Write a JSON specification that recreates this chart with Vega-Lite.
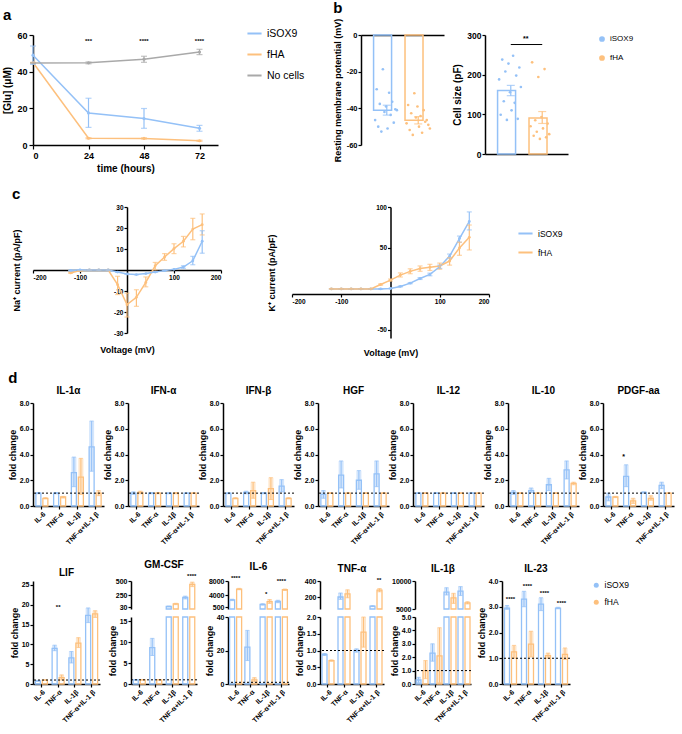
{
"$schema":"https://vega.github.io/schema/vega-lite/v6.json",
"padding":{"left":2,"top":1,"right":0,"bottom":0},
"spacing":14,
"align":"none",
"resolve":{"scale":{"color":"independent"}},
"config":{
 "font":"Liberation Sans",
 "view":{"stroke":null},
 "axis":{"grid":false,"domainColor":"#000","tickColor":"#000","labelColor":"#000","titleColor":"#000","labelFont":"Liberation Sans","titleFont":"Liberation Sans","labelFontWeight":"bold","titleFontWeight":"bold","domainWidth":1.5,"tickWidth":1.2,"tickSize":3,"labelFontSize":7,"titleFontSize":9,"labelPadding":1,"titlePadding":2,"labelOverlap":false,"tickCount":20},
 "title":{"font":"Liberation Sans","fontSize":10,"fontWeight":"bold","color":"#000","offset":3},
 "legend":{"labelFont":"Liberation Sans","labelColor":"#000"}
},
"datasets":{
 "glu":[
  {"t":0,"g":"iSOX9","m":49,"lo":44,"hi":54},{"t":24,"g":"iSOX9","m":17.5,"lo":9.6,"hi":25.5},{"t":48,"g":"iSOX9","m":14.4,"lo":9.1,"hi":19.9},{"t":72,"g":"iSOX9","m":9.1,"lo":7.5,"hi":10.7},
  {"t":0,"g":"fHA","m":45,"lo":45,"hi":45},{"t":24,"g":"fHA","m":3.7,"lo":3.4,"hi":4.0},{"t":48,"g":"fHA","m":3.6,"lo":3.3,"hi":3.9},{"t":72,"g":"fHA","m":2.3,"lo":2.0,"hi":2.6},
  {"t":0,"g":"No cells","m":44.7,"lo":44.7,"hi":44.7},{"t":24,"g":"No cells","m":44.8,"lo":44.3,"hi":45.3},{"t":48,"g":"No cells","m":46.8,"lo":45.1,"hi":48.4},{"t":72,"g":"No cells","m":50.7,"lo":49.3,"hi":52.2}
 ],
 "gstars":[{"t":24,"s":"***"},{"t":48,"s":"****"},{"t":72,"s":"****"}],
 "rmp":[
  {"g":"iSOX9","r":1,"v":-46.4},{"g":"iSOX9","r":2,"v":-29.6},{"g":"iSOX9","r":3,"v":-50},{"g":"iSOX9","r":4,"v":-37.6},{"g":"iSOX9","r":5,"v":-52.7},{"g":"iSOX9","r":6,"v":-18.7},{"g":"iSOX9","r":7,"v":-42},{"g":"iSOX9","r":8,"v":-39},{"g":"iSOX9","r":9,"v":-51},{"g":"iSOX9","r":10,"v":-31.5},{"g":"iSOX9","r":11,"v":-43.6},{"g":"iSOX9","r":12,"v":-36.4},{"g":"iSOX9","r":13,"v":-47.8},{"g":"iSOX9","r":14,"v":-40.5},{"g":"iSOX9","r":15,"v":-41},
  {"g":"fHA","r":1,"v":-48.2},{"g":"fHA","r":2,"v":-38.2},{"g":"fHA","r":3,"v":-51.8},{"g":"fHA","r":4,"v":-42.7},{"g":"fHA","r":5,"v":-54.5},{"g":"fHA","r":6,"v":-31.8},{"g":"fHA","r":7,"v":-45},{"g":"fHA","r":8,"v":-39},{"g":"fHA","r":9,"v":-50},{"g":"fHA","r":10,"v":-44.2},{"g":"fHA","r":11,"v":-53.3},{"g":"fHA","r":12,"v":-41},{"g":"fHA","r":13,"v":-47.3},{"g":"fHA","r":14,"v":-46.4},{"g":"fHA","r":15,"v":-49},{"g":"fHA","r":16,"v":-51}
 ],
 "rmpbar":[{"g":"iSOX9","m":-41,"lo":-43.7,"hi":-38.3},{"g":"fHA","m":-46.5,"lo":-48.5,"hi":-44.5}],
 "cs":[
  {"g":"iSOX9","r":1,"v":188},{"g":"iSOX9","r":2,"v":99},{"g":"iSOX9","r":3,"v":238},{"g":"iSOX9","r":4,"v":133},{"g":"iSOX9","r":5,"v":208},{"g":"iSOX9","r":6,"v":86},{"g":"iSOX9","r":7,"v":228},{"g":"iSOX9","r":8,"v":155.6},{"g":"iSOX9","r":9,"v":110},{"g":"iSOX9","r":10,"v":247.6},{"g":"iSOX9","r":11,"v":129},{"g":"iSOX9","r":12,"v":197.6},{"g":"iSOX9","r":13,"v":88.7},{"g":"iSOX9","r":14,"v":218},{"g":"iSOX9","r":15,"v":169},
  {"g":"fHA","r":1,"v":70},{"g":"fHA","r":2,"v":231},{"g":"fHA","r":3,"v":46},{"g":"fHA","r":4,"v":85},{"g":"fHA","r":5,"v":56},{"g":"fHA","r":6,"v":194},{"g":"fHA","r":7,"v":38},{"g":"fHA","r":8,"v":93},{"g":"fHA","r":9,"v":64.5},{"g":"fHA","r":10,"v":214},{"g":"fHA","r":11,"v":42},{"g":"fHA","r":12,"v":76.6},{"g":"fHA","r":13,"v":50}
 ],
 "csbar":[{"g":"iSOX9","m":160,"lo":147,"hi":173},{"g":"fHA","m":91,"lo":77,"hi":107}],
 "cssig":[{"y":276,"s":"**"}],
 "na":[
  {"v":-120,"g":"fHA","m":-1.4,"lo":-1.4,"hi":-1.4},{"v":-100,"g":"fHA","m":-0.3,"lo":-0.3,"hi":-0.3},{"v":-80,"g":"fHA","m":0,"lo":0,"hi":0},{"v":-60,"g":"fHA","m":0,"lo":0,"hi":0},{"v":-40,"g":"fHA","m":0,"lo":0,"hi":0},{"v":-20,"g":"fHA","m":-7,"lo":-11.7,"hi":-3},{"v":0,"g":"fHA","m":-16.5,"lo":-22.4,"hi":-11},{"v":20,"g":"fHA","m":-13,"lo":-17.3,"hi":-9.4},{"v":40,"g":"fHA","m":-5.9,"lo":-8,"hi":-3.3},{"v":60,"g":"fHA","m":2,"lo":0,"hi":3.6},{"v":80,"g":"fHA","m":6.2,"lo":4.6,"hi":7.8},{"v":100,"g":"fHA","m":10.2,"lo":7.8,"hi":12.5},{"v":120,"g":"fHA","m":13.7,"lo":11,"hi":16},{"v":140,"g":"fHA","m":19.5,"lo":14.4,"hi":24.6},{"v":160,"g":"fHA","m":21.6,"lo":16.7,"hi":26.7},
  {"v":-120,"g":"iSOX9","m":-0.2,"lo":-0.2,"hi":-0.2},{"v":-100,"g":"iSOX9","m":0,"lo":0,"hi":0},{"v":-80,"g":"iSOX9","m":0,"lo":0,"hi":0},{"v":-60,"g":"iSOX9","m":0,"lo":0,"hi":0},{"v":-40,"g":"iSOX9","m":0,"lo":0,"hi":0},{"v":-20,"g":"iSOX9","m":-1,"lo":-1,"hi":-1},{"v":0,"g":"iSOX9","m":-1.9,"lo":-1.9,"hi":-1.9},{"v":20,"g":"iSOX9","m":-2.2,"lo":-2.2,"hi":-2.2},{"v":40,"g":"iSOX9","m":-1.7,"lo":-1.7,"hi":-1.7},{"v":60,"g":"iSOX9","m":-1,"lo":-1,"hi":-1},{"v":80,"g":"iSOX9","m":-0.3,"lo":-0.3,"hi":-0.3},{"v":100,"g":"iSOX9","m":0.3,"lo":0.3,"hi":0.3},{"v":120,"g":"iSOX9","m":1.4,"lo":0.8,"hi":2},{"v":140,"g":"iSOX9","m":4.4,"lo":2.5,"hi":6.5},{"v":160,"g":"iSOX9","m":13.7,"lo":8,"hi":18.7}
 ],
 "kk":[
  {"v":-120,"g":"iSOX9","m":0,"lo":0,"hi":0},{"v":-100,"g":"iSOX9","m":0,"lo":0,"hi":0},{"v":-80,"g":"iSOX9","m":0,"lo":0,"hi":0},{"v":-60,"g":"iSOX9","m":0,"lo":0,"hi":0},{"v":-40,"g":"iSOX9","m":0,"lo":0,"hi":0},{"v":-20,"g":"iSOX9","m":0,"lo":0,"hi":0},{"v":0,"g":"iSOX9","m":0.5,"lo":0.5,"hi":0.5},{"v":20,"g":"iSOX9","m":3,"lo":2.5,"hi":3.5},{"v":40,"g":"iSOX9","m":7,"lo":6.3,"hi":7.7},{"v":60,"g":"iSOX9","m":12.6,"lo":11.5,"hi":13.7},{"v":80,"g":"iSOX9","m":17.6,"lo":16,"hi":19.2},{"v":100,"g":"iSOX9","m":27,"lo":25,"hi":29},{"v":120,"g":"iSOX9","m":40,"lo":37.5,"hi":42.5},{"v":140,"g":"iSOX9","m":61.5,"lo":57,"hi":64.5},{"v":160,"g":"iSOX9","m":82.4,"lo":72,"hi":94},
  {"v":-120,"g":"fHA","m":0,"lo":0,"hi":0},{"v":-100,"g":"fHA","m":0,"lo":0,"hi":0},{"v":-80,"g":"fHA","m":0,"lo":0,"hi":0},{"v":-60,"g":"fHA","m":0,"lo":0,"hi":0},{"v":-40,"g":"fHA","m":0,"lo":0,"hi":0},{"v":-20,"g":"fHA","m":5.3,"lo":4.5,"hi":6},{"v":0,"g":"fHA","m":10.7,"lo":9.5,"hi":12},{"v":20,"g":"fHA","m":16.8,"lo":14.5,"hi":19.5},{"v":40,"g":"fHA","m":21.4,"lo":18.5,"hi":24.5},{"v":60,"g":"fHA","m":24.8,"lo":21.5,"hi":28},{"v":80,"g":"fHA","m":26.3,"lo":22.5,"hi":30},{"v":100,"g":"fHA","m":27.9,"lo":24,"hi":31.5},{"v":120,"g":"fHA","m":34,"lo":29,"hi":38},{"v":140,"g":"fHA","m":50,"lo":41,"hi":57},{"v":160,"g":"fHA","m":63,"lo":47.5,"hi":78}
 ],
 "cyto":[
  {"p":"IL-1α","c":"IL-6","g":"iSOX9","m":1.0,"lo":0.95,"hi":1.05},{"p":"IL-1α","c":"IL-6","g":"fHA","m":0.6,"lo":0.55,"hi":0.65},
  {"p":"IL-1α","c":"TNF-α","g":"iSOX9","m":1.0,"lo":0.95,"hi":1.05},{"p":"IL-1α","c":"TNF-α","g":"fHA","m":0.7,"lo":0.62,"hi":0.75},
  {"p":"IL-1α","c":"IL-1β","g":"iSOX9","m":2.6,"lo":1.5,"hi":3.8},{"p":"IL-1α","c":"IL-1β","g":"fHA","m":2.25,"lo":0.9,"hi":3.7},
  {"p":"IL-1α","c":"TNF-α+IL-1 β","g":"iSOX9","m":4.6,"lo":2.7,"hi":6.6},{"p":"IL-1α","c":"TNF-α+IL-1 β","g":"fHA","m":1.0,"lo":0.8,"hi":1.2},
  {"p":"IFN-α","c":"IL-6","g":"iSOX9","m":1.0,"lo":0.9,"hi":1.1},{"p":"IFN-α","c":"IL-6","g":"fHA","m":1.05,"lo":0.95,"hi":1.15},
  {"p":"IFN-α","c":"TNF-α","g":"iSOX9","m":1.0,"lo":0.95,"hi":1.05},{"p":"IFN-α","c":"TNF-α","g":"fHA","m":1.0,"lo":0.95,"hi":1.05},
  {"p":"IFN-α","c":"IL-1β","g":"iSOX9","m":1.0,"lo":0.95,"hi":1.02},{"p":"IFN-α","c":"IL-1β","g":"fHA","m":1.0,"lo":0.95,"hi":1.05},
  {"p":"IFN-α","c":"TNF-α+IL-1 β","g":"iSOX9","m":1.0,"lo":0.97,"hi":1.02},{"p":"IFN-α","c":"TNF-α+IL-1 β","g":"fHA","m":1.0,"lo":0.97,"hi":1.03},
  {"p":"IFN-β","c":"IL-6","g":"iSOX9","m":1.0,"lo":0.95,"hi":1.02},{"p":"IFN-β","c":"IL-6","g":"fHA","m":0.6,"lo":0.55,"hi":0.65},
  {"p":"IFN-β","c":"TNF-α","g":"iSOX9","m":1.05,"lo":0.95,"hi":1.15},{"p":"IFN-β","c":"TNF-α","g":"fHA","m":1.2,"lo":0.6,"hi":1.85},
  {"p":"IFN-β","c":"IL-1β","g":"iSOX9","m":1.0,"lo":0.95,"hi":1.05},{"p":"IFN-β","c":"IL-1β","g":"fHA","m":1.35,"lo":0.5,"hi":2.2},
  {"p":"IFN-β","c":"TNF-α+IL-1 β","g":"iSOX9","m":1.55,"lo":1.1,"hi":2.05},{"p":"IFN-β","c":"TNF-α+IL-1 β","g":"fHA","m":0.6,"lo":0.55,"hi":0.65},
  {"p":"HGF","c":"IL-6","g":"iSOX9","m":0.9,"lo":0.6,"hi":1.2},{"p":"HGF","c":"IL-6","g":"fHA","m":1.0,"lo":0.97,"hi":1.03},
  {"p":"HGF","c":"TNF-α","g":"iSOX9","m":2.4,"lo":1.4,"hi":3.5},{"p":"HGF","c":"TNF-α","g":"fHA","m":1.0,"lo":0.97,"hi":1.03},
  {"p":"HGF","c":"IL-1β","g":"iSOX9","m":2.0,"lo":1.3,"hi":2.75},{"p":"HGF","c":"IL-1β","g":"fHA","m":1.0,"lo":0.97,"hi":1.03},
  {"p":"HGF","c":"TNF-α+IL-1 β","g":"iSOX9","m":2.5,"lo":1.5,"hi":3.5},{"p":"HGF","c":"TNF-α+IL-1 β","g":"fHA","m":1.0,"lo":0.97,"hi":1.03},
  {"p":"IL-12","c":"IL-6","g":"iSOX9","m":1.0,"lo":0.97,"hi":1.03},{"p":"IL-12","c":"IL-6","g":"fHA","m":1.0,"lo":0.97,"hi":1.03},
  {"p":"IL-12","c":"TNF-α","g":"iSOX9","m":1.0,"lo":0.97,"hi":1.03},{"p":"IL-12","c":"TNF-α","g":"fHA","m":1.0,"lo":0.97,"hi":1.03},
  {"p":"IL-12","c":"IL-1β","g":"iSOX9","m":1.0,"lo":0.97,"hi":1.03},{"p":"IL-12","c":"IL-1β","g":"fHA","m":1.0,"lo":0.97,"hi":1.03},
  {"p":"IL-12","c":"TNF-α+IL-1 β","g":"iSOX9","m":1.0,"lo":0.97,"hi":1.03},{"p":"IL-12","c":"TNF-α+IL-1 β","g":"fHA","m":1.0,"lo":0.97,"hi":1.03},
  {"p":"IL-10","c":"IL-6","g":"iSOX9","m":1.05,"lo":0.9,"hi":1.2},{"p":"IL-10","c":"IL-6","g":"fHA","m":1.0,"lo":0.97,"hi":1.03},
  {"p":"IL-10","c":"TNF-α","g":"iSOX9","m":1.2,"lo":1.05,"hi":1.4},{"p":"IL-10","c":"TNF-α","g":"fHA","m":1.0,"lo":0.97,"hi":1.03},
  {"p":"IL-10","c":"IL-1β","g":"iSOX9","m":1.65,"lo":1.2,"hi":2.15},{"p":"IL-10","c":"IL-1β","g":"fHA","m":1.0,"lo":0.97,"hi":1.03},
  {"p":"IL-10","c":"TNF-α+IL-1 β","g":"iSOX9","m":2.8,"lo":2.1,"hi":3.5},{"p":"IL-10","c":"TNF-α+IL-1 β","g":"fHA","m":1.75,"lo":1.65,"hi":1.85},
  {"p":"PDGF-aa","c":"IL-6","g":"iSOX9","m":0.7,"lo":0.4,"hi":1.0},{"p":"PDGF-aa","c":"IL-6","g":"fHA","m":0.7,"lo":0.65,"hi":0.75},
  {"p":"PDGF-aa","c":"TNF-α","g":"iSOX9","m":2.3,"lo":1.5,"hi":3.2},{"p":"PDGF-aa","c":"TNF-α","g":"fHA","m":0.4,"lo":0.2,"hi":0.6},
  {"p":"PDGF-aa","c":"IL-1β","g":"iSOX9","m":1.05,"lo":1.0,"hi":1.1},{"p":"PDGF-aa","c":"IL-1β","g":"fHA","m":0.6,"lo":0.45,"hi":0.8},
  {"p":"PDGF-aa","c":"TNF-α+IL-1 β","g":"iSOX9","m":1.6,"lo":1.35,"hi":1.85},{"p":"PDGF-aa","c":"TNF-α+IL-1 β","g":"fHA","m":1.0,"lo":0.97,"hi":1.03},
  {"p":"LIF","c":"IL-6","g":"iSOX9","m":0.8,"lo":0.7,"hi":0.9},{"p":"LIF","c":"IL-6","g":"fHA","m":1.0,"lo":0.95,"hi":1.05},
  {"p":"LIF","c":"TNF-α","g":"iSOX9","m":9.0,"lo":8.4,"hi":9.8},{"p":"LIF","c":"TNF-α","g":"fHA","m":1.6,"lo":1.0,"hi":2.3},
  {"p":"LIF","c":"IL-1β","g":"iSOX9","m":6.6,"lo":5.3,"hi":8.2},{"p":"LIF","c":"IL-1β","g":"fHA","m":10.3,"lo":9.2,"hi":11.7},
  {"p":"LIF","c":"TNF-α+IL-1 β","g":"iSOX9","m":17.3,"lo":15.5,"hi":19.2},{"p":"LIF","c":"TNF-α+IL-1 β","g":"fHA","m":17.7,"lo":16.8,"hi":18.5},
  {"p":"GM-CSF","c":"IL-6","g":"iSOX9","m":1.0,"lo":0.95,"hi":1.05},{"p":"GM-CSF","c":"IL-6","g":"fHA","m":1.0,"lo":0.95,"hi":1.05},
  {"p":"GM-CSF","c":"TNF-α","g":"iSOX9","m":8.7,"lo":6.8,"hi":10.9},{"p":"GM-CSF","c":"TNF-α","g":"fHA","m":1.0,"lo":0.95,"hi":1.05},
  {"p":"GM-CSF","c":"IL-1β","g":"iSOX9","m":45,"lo":38,"hi":52},{"p":"GM-CSF","c":"IL-1β","g":"fHA","m":90,"lo":78,"hi":102},
  {"p":"GM-CSF","c":"TNF-α+IL-1 β","g":"iSOX9","m":205,"lo":180,"hi":230},{"p":"GM-CSF","c":"TNF-α+IL-1 β","g":"fHA","m":440,"lo":400,"hi":480},
  {"p":"IL-6","c":"IL-6","g":"iSOX9","m":2600,"lo":2400,"hi":2800},{"p":"IL-6","c":"IL-6","g":"fHA","m":5700,"lo":5500,"hi":5900},
  {"p":"IL-6","c":"TNF-α","g":"iSOX9","m":22,"lo":14,"hi":32},{"p":"IL-6","c":"TNF-α","g":"fHA","m":2.5,"lo":1.2,"hi":3.8},
  {"p":"IL-6","c":"IL-1β","g":"iSOX9","m":1300,"lo":1100,"hi":1500},{"p":"IL-6","c":"IL-1β","g":"fHA","m":2100,"lo":1600,"hi":2700},
  {"p":"IL-6","c":"TNF-α+IL-1 β","g":"iSOX9","m":2150,"lo":1800,"hi":2500},{"p":"IL-6","c":"TNF-α+IL-1 β","g":"fHA","m":5500,"lo":5300,"hi":5700},
  {"p":"TNF-α","c":"IL-6","g":"iSOX9","m":0.88,"lo":0.85,"hi":0.91},{"p":"TNF-α","c":"IL-6","g":"fHA","m":0.7,"lo":0.68,"hi":0.72},
  {"p":"TNF-α","c":"TNF-α","g":"iSOX9","m":200,"lo":170,"hi":250},{"p":"TNF-α","c":"TNF-α","g":"fHA","m":240,"lo":190,"hi":290},
  {"p":"TNF-α","c":"IL-1β","g":"iSOX9","m":1.0,"lo":0.95,"hi":1.05},{"p":"TNF-α","c":"IL-1β","g":"fHA","m":1.55,"lo":1.1,"hi":2.0},
  {"p":"TNF-α","c":"TNF-α+IL-1 β","g":"iSOX9","m":85,"lo":80,"hi":92},{"p":"TNF-α","c":"TNF-α+IL-1 β","g":"fHA","m":285,"lo":265,"hi":305},
  {"p":"IL-1β","c":"IL-6","g":"iSOX9","m":0.3,"lo":0.1,"hi":0.5},{"p":"IL-1β","c":"IL-6","g":"fHA","m":1.0,"lo":0.4,"hi":1.75},
  {"p":"IL-1β","c":"TNF-α","g":"iSOX9","m":2.3,"lo":1.7,"hi":3.0},{"p":"IL-1β","c":"TNF-α","g":"fHA","m":2.1,"lo":0.1,"hi":4.2},
  {"p":"IL-1β","c":"IL-1β","g":"iSOX9","m":8000,"lo":7500,"hi":8800},{"p":"IL-1β","c":"IL-1β","g":"fHA","m":7000,"lo":6000,"hi":7800},
  {"p":"IL-1β","c":"TNF-α+IL-1 β","g":"iSOX9","m":8200,"lo":7400,"hi":9000},{"p":"IL-1β","c":"TNF-α+IL-1 β","g":"fHA","m":6100,"lo":5900,"hi":6300},
  {"p":"IL-23","c":"IL-6","g":"iSOX9","m":2.95,"lo":2.9,"hi":3.05},{"p":"IL-23","c":"IL-6","g":"fHA","m":1.25,"lo":1.0,"hi":1.5},
  {"p":"IL-23","c":"TNF-α","g":"iSOX9","m":3.3,"lo":3.0,"hi":3.6},{"p":"IL-23","c":"TNF-α","g":"fHA","m":1.55,"lo":1.05,"hi":2.05},
  {"p":"IL-23","c":"IL-1β","g":"iSOX9","m":3.1,"lo":2.85,"hi":3.35},{"p":"IL-23","c":"IL-1β","g":"fHA","m":1.1,"lo":1.0,"hi":1.2},
  {"p":"IL-23","c":"TNF-α+IL-1 β","g":"iSOX9","m":2.95,"lo":2.92,"hi":2.98},{"p":"IL-23","c":"TNF-α+IL-1 β","g":"fHA","m":1.15,"lo":0.95,"hi":1.4}
 ],
 "stars":[
  {"p":"PDGF-aa","c":"TNF-α","y":3.8,"s":"*"},
  {"p":"LIF","c":"TNF-α","y":19.5,"s":"**"},
  {"p":"GM-CSF","c":"TNF-α+IL-1 β","y":500,"s":"****"},
  {"p":"IL-6","c":"IL-6","y":8000,"s":"****"},
  {"p":"IL-6","c":"IL-1β","y":3300,"s":"*"},
  {"p":"IL-6","c":"TNF-α+IL-1 β","y":7200,"s":"****"},
  {"p":"TNF-α","c":"TNF-α+IL-1 β","y":385,"s":"**"},
  {"p":"IL-23","c":"IL-6","y":3.3,"s":"****"},
  {"p":"IL-23","c":"TNF-α","y":3.8,"s":"****"},
  {"p":"IL-23","c":"IL-1β","y":3.55,"s":"****"},
  {"p":"IL-23","c":"TNF-α+IL-1 β","y":3.15,"s":"****"}
 ]
},
"vconcat":[
 {"hconcat":[
  {"title":{"text":"a","anchor":"start","frame":"bounds","fontSize":15,"offset":2},
   "width":185,"height":110,"data":{"name":"glu"},
   "layer":[
    {"mark":{"type":"line","strokeWidth":1.5,"point":{"filled":true,"size":10}},
     "encoding":{"x":{"field":"t","type":"quantitative","scale":{"domain":[0,80]},"axis":{"values":[0,24,48,72],"title":"time (hours)","labelFontSize":9,"titleFontSize":10,"tickSize":4,"labelPadding":2,"titlePadding":3,"tickCount":20}},
      "y":{"field":"m","type":"quantitative","scale":{"domain":[0,60]},"axis":{"values":[0,20,40,60],"title":"[Glu] (μM)","labelFontSize":9,"titleFontSize":10,"tickSize":4,"labelPadding":2,"titlePadding":4,"labelOverlap":false,"tickCount":20}},
      "color":{"field":"g","type":"nominal","scale":{"domain":["iSOX9","fHA","No cells"],"range":["#94c1f7","#fdc07d","#a9a9a9"]},"legend":{"title":null,"orient":"none","legendX":213,"legendY":-10,"symbolType":"stroke","symbolStrokeWidth":2,"symbolSize":200,"labelFontSize":10.5,"labelFontWeight":"normal","rowPadding":7}}}},
    {"mark":{"type":"rule","strokeWidth":1.2},"encoding":{"x":{"field":"t","type":"quantitative"},"y":{"field":"lo","type":"quantitative"},"y2":{"field":"hi"},"color":{"field":"g","type":"nominal","legend":null}}},
    {"transform":[{"fold":["lo","hi"],"as":["k","val"]}],"mark":{"type":"tick","orient":"horizontal","size":6,"thickness":1.2},"encoding":{"x":{"field":"t","type":"quantitative"},"y":{"field":"val","type":"quantitative"},"color":{"field":"g","type":"nominal","legend":null}}},
    {"data":{"name":"gstars"},"mark":{"type":"text","fontSize":6,"fontWeight":"bold"},"encoding":{"x":{"field":"t","type":"quantitative"},"y":{"datum":57},"text":{"field":"s"}}}
   ]},
  {"title":{"text":"b","anchor":"start","frame":"bounds","fontSize":15,"offset":2},
   "hconcat":[
   {"width":83,"height":110,
    "layer":[
     {"data":{"name":"rmpbar"},"mark":{"type":"bar","filled":false,"strokeWidth":1.5},
      "encoding":{"x":{"field":"g","type":"nominal","sort":["iSOX9","fHA"],"scale":{"paddingInner":0.16,"paddingOuter":0.4},"axis":{"orient":"top","labels":false,"ticks":false,"title":null}},
       "y":{"field":"m","type":"quantitative","scale":{"domain":[-60,0]},"axis":{"values":[-60,-40,-20,0],"title":"Resting membrane potential (mV)","labelExpr":"replace(datum.label,'−','-')","labelFontSize":7.5,"titleFontSize":9,"titlePadding":4,"labelOverlap":false,"tickCount":20}},
       "color":{"field":"g","type":"nominal","scale":{"domain":["iSOX9","fHA"],"range":["#94c1f7","#fdc07d"]},"legend":null}}},
     {"data":{"name":"rmp"},"mark":{"type":"point","filled":true,"size":7,"opacity":1},
      "encoding":{"x":{"field":"g","type":"nominal","sort":["iSOX9","fHA"]},"xOffset":{"field":"r","type":"nominal","scale":{"paddingOuter":4}},"y":{"field":"v","type":"quantitative"},"color":{"field":"g","type":"nominal","legend":null}}},
     {"data":{"name":"rmpbar"},"mark":{"type":"rule","strokeWidth":1.2},"encoding":{"x":{"field":"g","type":"nominal","sort":["iSOX9","fHA"]},"y":{"field":"lo","type":"quantitative"},"y2":{"field":"hi"},"color":{"field":"g","type":"nominal","legend":null}}},
     {"data":{"name":"rmpbar"},"transform":[{"fold":["lo","hi"],"as":["k","val"]}],"mark":{"type":"tick","size":8,"thickness":1.2},"encoding":{"x":{"field":"g","type":"nominal","sort":["iSOX9","fHA"]},"y":{"field":"val","type":"quantitative"},"color":{"field":"g","type":"nominal","legend":null}}}
    ]},
   {"width":83,"height":119,
    "layer":[
     {"data":{"name":"cs"},"mark":{"type":"point","filled":true,"size":7,"opacity":1},
      "encoding":{"x":{"field":"g","type":"nominal","sort":["iSOX9","fHA"],"scale":{"paddingInner":0.16,"paddingOuter":0.4},"axis":{"labels":false,"ticks":false,"title":null}},"xOffset":{"field":"r","type":"nominal","scale":{"paddingOuter":4}},
       "y":{"field":"v","type":"quantitative","scale":{"domain":[0,300]},"axis":{"values":[0,100,200,300],"title":"Cell size (pF)","labelFontSize":8.5,"titleFontSize":10,"titlePadding":4,"labelOverlap":false,"tickCount":20}},
       "color":{"field":"g","type":"nominal","scale":{"domain":["iSOX9","fHA"],"range":["#94c1f7","#fdc07d"]},"legend":{"title":null,"orient":"right","offset":30,"symbolType":"circle","symbolSize":18,"labelFontSize":8,"labelFontWeight":"normal","rowPadding":7}}}},
     {"data":{"name":"csbar"},"mark":{"type":"bar","filled":false,"strokeWidth":1.5},"encoding":{"x":{"field":"g","type":"nominal","sort":["iSOX9","fHA"]},"y":{"field":"m","type":"quantitative"},"color":{"field":"g","type":"nominal","legend":null}}},
     {"data":{"name":"csbar"},"mark":{"type":"rule","strokeWidth":1.2},"encoding":{"x":{"field":"g","type":"nominal","sort":["iSOX9","fHA"]},"y":{"field":"lo","type":"quantitative"},"y2":{"field":"hi"},"color":{"field":"g","type":"nominal","legend":null}}},
     {"data":{"name":"csbar"},"transform":[{"fold":["lo","hi"],"as":["k","val"]}],"mark":{"type":"tick","size":8,"thickness":1.2},"encoding":{"x":{"field":"g","type":"nominal","sort":["iSOX9","fHA"]},"y":{"field":"val","type":"quantitative"},"color":{"field":"g","type":"nominal","legend":null}}},
     {"data":{"name":"cssig"},"mark":{"type":"rule","color":"#000","strokeWidth":1},"encoding":{"x":{"datum":"iSOX9"},"x2":{"datum":"fHA"},"y":{"field":"y","type":"quantitative"}}},
     {"data":{"name":"cssig"},"mark":{"type":"text","fontSize":7,"fontWeight":"bold","dx":15},"encoding":{"x":{"datum":"iSOX9"},"y":{"datum":290},"text":{"field":"s"}}}
    ]}
  ],"spacing":8,"resolve":{"scale":{"color":"independent"}}}
 ],"spacing":28,"resolve":{"scale":{"color":"independent"}}},
 {"hconcat":[
  {"title":{"text":"c","anchor":"start","frame":"bounds","fontSize":15,"offset":2},
   "width":188,"height":126,"data":{"name":"na"},
   "resolve":{"axis":{"x":"independent","y":"independent"}},
   "layer":[
    {"mark":{"type":"line","strokeWidth":1.5,"point":{"filled":true,"size":8}},
     "encoding":{"x":{"field":"v","type":"quantitative","scale":{"domain":[-200,200]},"axis":{"orient":"bottom","offset":-63,"values":[-200,-100,100,200],"title":null,"labelFontSize":6.5,"labelExpr":"replace(datum.label,'−','-')","labelOverlap":false,"tickCount":20}},
      "y":{"field":"m","type":"quantitative","scale":{"domain":[-30,30]},"axis":{"orient":"left","offset":-94,"values":[-30,-20,-10,10,20,30],"title":null,"labelFontSize":6.5,"labelExpr":"replace(datum.label,'−','-')","labelOverlap":false,"tickCount":20}},
      "color":{"field":"g","type":"nominal","scale":{"domain":["iSOX9","fHA"],"range":["#94c1f7","#fdc07d"]},"legend":null}}},
    {"mark":{"type":"rule","strokeWidth":1.2},
     "encoding":{"x":{"field":"v","type":"quantitative","axis":{"orient":"bottom","title":"Voltage (mV)","domain":false,"ticks":false,"labels":false,"titlePadding":12,"titleFontSize":9}},
      "y":{"field":"lo","type":"quantitative","axis":{"orient":"left","title":"Na⁺ current (pA/pF)","domain":false,"ticks":false,"labels":false,"titlePadding":12,"titleFontSize":9}},"y2":{"field":"hi"},"color":{"field":"g","type":"nominal","legend":null}}},
    {"transform":[{"fold":["lo","hi"],"as":["k","val"]}],"mark":{"type":"tick","orient":"horizontal","size":5,"thickness":1.2},"encoding":{"x":{"field":"v","type":"quantitative","axis":null},"y":{"field":"val","type":"quantitative","axis":null},"color":{"field":"g","type":"nominal","legend":null}}}
   ]},
  {"width":197,"height":131,"data":{"name":"kk"},
   "resolve":{"axis":{"x":"independent","y":"independent"}},
   "layer":[
    {"mark":{"type":"line","strokeWidth":1.5,"point":{"filled":true,"size":8}},
     "encoding":{"x":{"field":"v","type":"quantitative","scale":{"domain":[-200,200]},"axis":{"orient":"bottom","offset":-44,"values":[-200,-100,100,200],"title":null,"labelFontSize":6.5,"labelExpr":"replace(datum.label,'−','-')","labelOverlap":false,"tickCount":20}},
      "y":{"field":"m","type":"quantitative","scale":{"domain":[-50,100]},"axis":{"orient":"left","offset":-98.5,"values":[-50,50,100],"title":null,"labelFontSize":6.5,"labelExpr":"replace(datum.label,'−','-')","labelOverlap":false,"tickCount":20}},
      "color":{"field":"g","type":"nominal","scale":{"domain":["iSOX9","fHA"],"range":["#94c1f7","#fdc07d"]},"legend":{"title":null,"orient":"none","legendX":225,"legendY":18,"symbolType":"stroke","symbolStrokeWidth":2,"symbolSize":200,"labelFontSize":8.5,"labelFontWeight":"normal","rowPadding":6}}}},
    {"mark":{"type":"rule","strokeWidth":1.2},
     "encoding":{"x":{"field":"v","type":"quantitative","axis":{"orient":"bottom","title":"Voltage (mV)","domain":false,"ticks":false,"labels":false,"titlePadding":10,"titleFontSize":9}},
      "y":{"field":"lo","type":"quantitative","axis":{"orient":"left","title":"K⁺ current (pA/pF)","domain":false,"ticks":false,"labels":false,"titlePadding":16,"titleFontSize":9}},"y2":{"field":"hi"},"color":{"field":"g","type":"nominal","legend":null}}},
    {"transform":[{"fold":["lo","hi"],"as":["k","val"]}],"mark":{"type":"tick","orient":"horizontal","size":5,"thickness":1.2},"encoding":{"x":{"field":"v","type":"quantitative","axis":null},"y":{"field":"val","type":"quantitative","axis":null},"color":{"field":"g","type":"nominal","legend":null}}}
   ]}
 ],"spacing":45,"resolve":{"scale":{"color":"independent"}}},
 {"title":{"text":"d","anchor":"start","frame":"bounds","fontSize":15,"offset":0},
  "bounds":"flush","spacing":24,
  "hconcat":[
   {"title":"IL-1α","width":71,"height":103,"data":{"name":"cyto"},"transform":[{"filter":"datum.p==='IL-1α'"}],"layer":[
    {"transform":[{"filter":"datum.g==='iSOX9'"}],"mark":{"type":"bar","width":5,"xOffset":-3.5,"color":"#94c1f7","opacity":0.4},"encoding":{"x":{"field":"c","type":"nominal","sort":["IL-6","TNF-α","IL-1β","TNF-α+IL-1 β"],"scale":{"paddingInner":0.3,"paddingOuter":0.15},"axis":{"title":null,"labelAngle":-45}},"y":{"field":"lo","type":"quantitative","scale":{"domain":[0,8]},"axis":{"title":"fold change","values":[0,2,4,6,8],"labelOverlap":false,"tickCount":20}},"y2":{"field":"hi"}}},
    {"transform":[{"filter":"datum.g==='iSOX9'"}],"mark":{"type":"bar","width":5,"xOffset":-3.5,"color":"#94c1f7","filled":false,"strokeWidth":1.3},"encoding":{"x":{"field":"c","type":"nominal","sort":["IL-6","TNF-α","IL-1β","TNF-α+IL-1 β"]},"y":{"field":"m","type":"quantitative"}}},
    {"transform":[{"filter":"datum.g==='iSOX9'"}],"mark":{"type":"rule","xOffset":-3.5,"color":"#94c1f7"},"encoding":{"x":{"field":"c","type":"nominal","sort":["IL-6","TNF-α","IL-1β","TNF-α+IL-1 β"]},"y":{"field":"lo","type":"quantitative"},"y2":{"field":"hi"}}},
    {"transform":[{"filter":"datum.g==='iSOX9'"},{"fold":["lo","hi"],"as":["k","val"]}],"mark":{"type":"tick","xOffset":-3.5,"color":"#94c1f7","size":4,"thickness":1},"encoding":{"x":{"field":"c","type":"nominal","sort":["IL-6","TNF-α","IL-1β","TNF-α+IL-1 β"]},"y":{"field":"val","type":"quantitative"}}},
    {"transform":[{"filter":"datum.g==='fHA'"}],"mark":{"type":"bar","width":5,"xOffset":3.5,"color":"#fdc07d","opacity":0.4},"encoding":{"x":{"field":"c","type":"nominal","sort":["IL-6","TNF-α","IL-1β","TNF-α+IL-1 β"]},"y":{"field":"lo","type":"quantitative"},"y2":{"field":"hi"}}},
    {"transform":[{"filter":"datum.g==='fHA'"}],"mark":{"type":"bar","width":5,"xOffset":3.5,"color":"#fdc07d","filled":false,"strokeWidth":1.3},"encoding":{"x":{"field":"c","type":"nominal","sort":["IL-6","TNF-α","IL-1β","TNF-α+IL-1 β"]},"y":{"field":"m","type":"quantitative"}}},
    {"transform":[{"filter":"datum.g==='fHA'"}],"mark":{"type":"rule","xOffset":3.5,"color":"#fdc07d"},"encoding":{"x":{"field":"c","type":"nominal","sort":["IL-6","TNF-α","IL-1β","TNF-α+IL-1 β"]},"y":{"field":"lo","type":"quantitative"},"y2":{"field":"hi"}}},
    {"transform":[{"filter":"datum.g==='fHA'"},{"fold":["lo","hi"],"as":["k","val"]}],"mark":{"type":"tick","xOffset":3.5,"color":"#fdc07d","size":4,"thickness":1},"encoding":{"x":{"field":"c","type":"nominal","sort":["IL-6","TNF-α","IL-1β","TNF-α+IL-1 β"]},"y":{"field":"val","type":"quantitative"}}},
    {"data":{"values":[{"p":"IL-1α"}]},"mark":{"type":"rule","strokeDash":[2,2],"color":"#000"},"encoding":{"y":{"datum":1}}}
   ]},
   {"title":"IFN-α","width":71,"height":103,"data":{"name":"cyto"},"transform":[{"filter":"datum.p==='IFN-α'"}],"layer":[
    {"transform":[{"filter":"datum.g==='iSOX9'"}],"mark":{"type":"bar","width":5,"xOffset":-3.5,"color":"#94c1f7","opacity":0.4},"encoding":{"x":{"field":"c","type":"nominal","sort":["IL-6","TNF-α","IL-1β","TNF-α+IL-1 β"],"scale":{"paddingInner":0.3,"paddingOuter":0.15},"axis":{"title":null,"labelAngle":-45}},"y":{"field":"lo","type":"quantitative","scale":{"domain":[0,8]},"axis":{"title":"fold change","values":[0,2,4,6,8],"labelOverlap":false,"tickCount":20}},"y2":{"field":"hi"}}},
    {"transform":[{"filter":"datum.g==='iSOX9'"}],"mark":{"type":"bar","width":5,"xOffset":-3.5,"color":"#94c1f7","filled":false,"strokeWidth":1.3},"encoding":{"x":{"field":"c","type":"nominal","sort":["IL-6","TNF-α","IL-1β","TNF-α+IL-1 β"]},"y":{"field":"m","type":"quantitative"}}},
    {"transform":[{"filter":"datum.g==='iSOX9'"}],"mark":{"type":"rule","xOffset":-3.5,"color":"#94c1f7"},"encoding":{"x":{"field":"c","type":"nominal","sort":["IL-6","TNF-α","IL-1β","TNF-α+IL-1 β"]},"y":{"field":"lo","type":"quantitative"},"y2":{"field":"hi"}}},
    {"transform":[{"filter":"datum.g==='iSOX9'"},{"fold":["lo","hi"],"as":["k","val"]}],"mark":{"type":"tick","xOffset":-3.5,"color":"#94c1f7","size":4,"thickness":1},"encoding":{"x":{"field":"c","type":"nominal","sort":["IL-6","TNF-α","IL-1β","TNF-α+IL-1 β"]},"y":{"field":"val","type":"quantitative"}}},
    {"transform":[{"filter":"datum.g==='fHA'"}],"mark":{"type":"bar","width":5,"xOffset":3.5,"color":"#fdc07d","opacity":0.4},"encoding":{"x":{"field":"c","type":"nominal","sort":["IL-6","TNF-α","IL-1β","TNF-α+IL-1 β"]},"y":{"field":"lo","type":"quantitative"},"y2":{"field":"hi"}}},
    {"transform":[{"filter":"datum.g==='fHA'"}],"mark":{"type":"bar","width":5,"xOffset":3.5,"color":"#fdc07d","filled":false,"strokeWidth":1.3},"encoding":{"x":{"field":"c","type":"nominal","sort":["IL-6","TNF-α","IL-1β","TNF-α+IL-1 β"]},"y":{"field":"m","type":"quantitative"}}},
    {"transform":[{"filter":"datum.g==='fHA'"}],"mark":{"type":"rule","xOffset":3.5,"color":"#fdc07d"},"encoding":{"x":{"field":"c","type":"nominal","sort":["IL-6","TNF-α","IL-1β","TNF-α+IL-1 β"]},"y":{"field":"lo","type":"quantitative"},"y2":{"field":"hi"}}},
    {"transform":[{"filter":"datum.g==='fHA'"},{"fold":["lo","hi"],"as":["k","val"]}],"mark":{"type":"tick","xOffset":3.5,"color":"#fdc07d","size":4,"thickness":1},"encoding":{"x":{"field":"c","type":"nominal","sort":["IL-6","TNF-α","IL-1β","TNF-α+IL-1 β"]},"y":{"field":"val","type":"quantitative"}}},
    {"data":{"values":[{"p":"IFN-α"}]},"mark":{"type":"rule","strokeDash":[2,2],"color":"#000"},"encoding":{"y":{"datum":1}}}
   ]},
   {"title":"IFN-β","width":71,"height":103,"data":{"name":"cyto"},"transform":[{"filter":"datum.p==='IFN-β'"}],"layer":[
    {"transform":[{"filter":"datum.g==='iSOX9'"}],"mark":{"type":"bar","width":5,"xOffset":-3.5,"color":"#94c1f7","opacity":0.4},"encoding":{"x":{"field":"c","type":"nominal","sort":["IL-6","TNF-α","IL-1β","TNF-α+IL-1 β"],"scale":{"paddingInner":0.3,"paddingOuter":0.15},"axis":{"title":null,"labelAngle":-45}},"y":{"field":"lo","type":"quantitative","scale":{"domain":[0,8]},"axis":{"title":"fold change","values":[0,2,4,6,8],"labelOverlap":false,"tickCount":20}},"y2":{"field":"hi"}}},
    {"transform":[{"filter":"datum.g==='iSOX9'"}],"mark":{"type":"bar","width":5,"xOffset":-3.5,"color":"#94c1f7","filled":false,"strokeWidth":1.3},"encoding":{"x":{"field":"c","type":"nominal","sort":["IL-6","TNF-α","IL-1β","TNF-α+IL-1 β"]},"y":{"field":"m","type":"quantitative"}}},
    {"transform":[{"filter":"datum.g==='iSOX9'"}],"mark":{"type":"rule","xOffset":-3.5,"color":"#94c1f7"},"encoding":{"x":{"field":"c","type":"nominal","sort":["IL-6","TNF-α","IL-1β","TNF-α+IL-1 β"]},"y":{"field":"lo","type":"quantitative"},"y2":{"field":"hi"}}},
    {"transform":[{"filter":"datum.g==='iSOX9'"},{"fold":["lo","hi"],"as":["k","val"]}],"mark":{"type":"tick","xOffset":-3.5,"color":"#94c1f7","size":4,"thickness":1},"encoding":{"x":{"field":"c","type":"nominal","sort":["IL-6","TNF-α","IL-1β","TNF-α+IL-1 β"]},"y":{"field":"val","type":"quantitative"}}},
    {"transform":[{"filter":"datum.g==='fHA'"}],"mark":{"type":"bar","width":5,"xOffset":3.5,"color":"#fdc07d","opacity":0.4},"encoding":{"x":{"field":"c","type":"nominal","sort":["IL-6","TNF-α","IL-1β","TNF-α+IL-1 β"]},"y":{"field":"lo","type":"quantitative"},"y2":{"field":"hi"}}},
    {"transform":[{"filter":"datum.g==='fHA'"}],"mark":{"type":"bar","width":5,"xOffset":3.5,"color":"#fdc07d","filled":false,"strokeWidth":1.3},"encoding":{"x":{"field":"c","type":"nominal","sort":["IL-6","TNF-α","IL-1β","TNF-α+IL-1 β"]},"y":{"field":"m","type":"quantitative"}}},
    {"transform":[{"filter":"datum.g==='fHA'"}],"mark":{"type":"rule","xOffset":3.5,"color":"#fdc07d"},"encoding":{"x":{"field":"c","type":"nominal","sort":["IL-6","TNF-α","IL-1β","TNF-α+IL-1 β"]},"y":{"field":"lo","type":"quantitative"},"y2":{"field":"hi"}}},
    {"transform":[{"filter":"datum.g==='fHA'"},{"fold":["lo","hi"],"as":["k","val"]}],"mark":{"type":"tick","xOffset":3.5,"color":"#fdc07d","size":4,"thickness":1},"encoding":{"x":{"field":"c","type":"nominal","sort":["IL-6","TNF-α","IL-1β","TNF-α+IL-1 β"]},"y":{"field":"val","type":"quantitative"}}},
    {"data":{"values":[{"p":"IFN-β"}]},"mark":{"type":"rule","strokeDash":[2,2],"color":"#000"},"encoding":{"y":{"datum":1}}}
   ]},
   {"title":"HGF","width":71,"height":103,"data":{"name":"cyto"},"transform":[{"filter":"datum.p==='HGF'"}],"layer":[
    {"transform":[{"filter":"datum.g==='iSOX9'"}],"mark":{"type":"bar","width":5,"xOffset":-3.5,"color":"#94c1f7","opacity":0.4},"encoding":{"x":{"field":"c","type":"nominal","sort":["IL-6","TNF-α","IL-1β","TNF-α+IL-1 β"],"scale":{"paddingInner":0.3,"paddingOuter":0.15},"axis":{"title":null,"labelAngle":-45}},"y":{"field":"lo","type":"quantitative","scale":{"domain":[0,8]},"axis":{"title":"fold change","values":[0,2,4,6,8],"labelOverlap":false,"tickCount":20}},"y2":{"field":"hi"}}},
    {"transform":[{"filter":"datum.g==='iSOX9'"}],"mark":{"type":"bar","width":5,"xOffset":-3.5,"color":"#94c1f7","filled":false,"strokeWidth":1.3},"encoding":{"x":{"field":"c","type":"nominal","sort":["IL-6","TNF-α","IL-1β","TNF-α+IL-1 β"]},"y":{"field":"m","type":"quantitative"}}},
    {"transform":[{"filter":"datum.g==='iSOX9'"}],"mark":{"type":"rule","xOffset":-3.5,"color":"#94c1f7"},"encoding":{"x":{"field":"c","type":"nominal","sort":["IL-6","TNF-α","IL-1β","TNF-α+IL-1 β"]},"y":{"field":"lo","type":"quantitative"},"y2":{"field":"hi"}}},
    {"transform":[{"filter":"datum.g==='iSOX9'"},{"fold":["lo","hi"],"as":["k","val"]}],"mark":{"type":"tick","xOffset":-3.5,"color":"#94c1f7","size":4,"thickness":1},"encoding":{"x":{"field":"c","type":"nominal","sort":["IL-6","TNF-α","IL-1β","TNF-α+IL-1 β"]},"y":{"field":"val","type":"quantitative"}}},
    {"transform":[{"filter":"datum.g==='fHA'"}],"mark":{"type":"bar","width":5,"xOffset":3.5,"color":"#fdc07d","opacity":0.4},"encoding":{"x":{"field":"c","type":"nominal","sort":["IL-6","TNF-α","IL-1β","TNF-α+IL-1 β"]},"y":{"field":"lo","type":"quantitative"},"y2":{"field":"hi"}}},
    {"transform":[{"filter":"datum.g==='fHA'"}],"mark":{"type":"bar","width":5,"xOffset":3.5,"color":"#fdc07d","filled":false,"strokeWidth":1.3},"encoding":{"x":{"field":"c","type":"nominal","sort":["IL-6","TNF-α","IL-1β","TNF-α+IL-1 β"]},"y":{"field":"m","type":"quantitative"}}},
    {"transform":[{"filter":"datum.g==='fHA'"}],"mark":{"type":"rule","xOffset":3.5,"color":"#fdc07d"},"encoding":{"x":{"field":"c","type":"nominal","sort":["IL-6","TNF-α","IL-1β","TNF-α+IL-1 β"]},"y":{"field":"lo","type":"quantitative"},"y2":{"field":"hi"}}},
    {"transform":[{"filter":"datum.g==='fHA'"},{"fold":["lo","hi"],"as":["k","val"]}],"mark":{"type":"tick","xOffset":3.5,"color":"#fdc07d","size":4,"thickness":1},"encoding":{"x":{"field":"c","type":"nominal","sort":["IL-6","TNF-α","IL-1β","TNF-α+IL-1 β"]},"y":{"field":"val","type":"quantitative"}}},
    {"data":{"values":[{"p":"HGF"}]},"mark":{"type":"rule","strokeDash":[2,2],"color":"#000"},"encoding":{"y":{"datum":1}}}
   ]},
   {"title":"IL-12","width":71,"height":103,"data":{"name":"cyto"},"transform":[{"filter":"datum.p==='IL-12'"}],"layer":[
    {"transform":[{"filter":"datum.g==='iSOX9'"}],"mark":{"type":"bar","width":5,"xOffset":-3.5,"color":"#94c1f7","opacity":0.4},"encoding":{"x":{"field":"c","type":"nominal","sort":["IL-6","TNF-α","IL-1β","TNF-α+IL-1 β"],"scale":{"paddingInner":0.3,"paddingOuter":0.15},"axis":{"title":null,"labelAngle":-45}},"y":{"field":"lo","type":"quantitative","scale":{"domain":[0,8]},"axis":{"title":"fold change","values":[0,2,4,6,8],"labelOverlap":false,"tickCount":20}},"y2":{"field":"hi"}}},
    {"transform":[{"filter":"datum.g==='iSOX9'"}],"mark":{"type":"bar","width":5,"xOffset":-3.5,"color":"#94c1f7","filled":false,"strokeWidth":1.3},"encoding":{"x":{"field":"c","type":"nominal","sort":["IL-6","TNF-α","IL-1β","TNF-α+IL-1 β"]},"y":{"field":"m","type":"quantitative"}}},
    {"transform":[{"filter":"datum.g==='iSOX9'"}],"mark":{"type":"rule","xOffset":-3.5,"color":"#94c1f7"},"encoding":{"x":{"field":"c","type":"nominal","sort":["IL-6","TNF-α","IL-1β","TNF-α+IL-1 β"]},"y":{"field":"lo","type":"quantitative"},"y2":{"field":"hi"}}},
    {"transform":[{"filter":"datum.g==='iSOX9'"},{"fold":["lo","hi"],"as":["k","val"]}],"mark":{"type":"tick","xOffset":-3.5,"color":"#94c1f7","size":4,"thickness":1},"encoding":{"x":{"field":"c","type":"nominal","sort":["IL-6","TNF-α","IL-1β","TNF-α+IL-1 β"]},"y":{"field":"val","type":"quantitative"}}},
    {"transform":[{"filter":"datum.g==='fHA'"}],"mark":{"type":"bar","width":5,"xOffset":3.5,"color":"#fdc07d","opacity":0.4},"encoding":{"x":{"field":"c","type":"nominal","sort":["IL-6","TNF-α","IL-1β","TNF-α+IL-1 β"]},"y":{"field":"lo","type":"quantitative"},"y2":{"field":"hi"}}},
    {"transform":[{"filter":"datum.g==='fHA'"}],"mark":{"type":"bar","width":5,"xOffset":3.5,"color":"#fdc07d","filled":false,"strokeWidth":1.3},"encoding":{"x":{"field":"c","type":"nominal","sort":["IL-6","TNF-α","IL-1β","TNF-α+IL-1 β"]},"y":{"field":"m","type":"quantitative"}}},
    {"transform":[{"filter":"datum.g==='fHA'"}],"mark":{"type":"rule","xOffset":3.5,"color":"#fdc07d"},"encoding":{"x":{"field":"c","type":"nominal","sort":["IL-6","TNF-α","IL-1β","TNF-α+IL-1 β"]},"y":{"field":"lo","type":"quantitative"},"y2":{"field":"hi"}}},
    {"transform":[{"filter":"datum.g==='fHA'"},{"fold":["lo","hi"],"as":["k","val"]}],"mark":{"type":"tick","xOffset":3.5,"color":"#fdc07d","size":4,"thickness":1},"encoding":{"x":{"field":"c","type":"nominal","sort":["IL-6","TNF-α","IL-1β","TNF-α+IL-1 β"]},"y":{"field":"val","type":"quantitative"}}},
    {"data":{"values":[{"p":"IL-12"}]},"mark":{"type":"rule","strokeDash":[2,2],"color":"#000"},"encoding":{"y":{"datum":1}}}
   ]},
   {"title":"IL-10","width":71,"height":103,"data":{"name":"cyto"},"transform":[{"filter":"datum.p==='IL-10'"}],"layer":[
    {"transform":[{"filter":"datum.g==='iSOX9'"}],"mark":{"type":"bar","width":5,"xOffset":-3.5,"color":"#94c1f7","opacity":0.4},"encoding":{"x":{"field":"c","type":"nominal","sort":["IL-6","TNF-α","IL-1β","TNF-α+IL-1 β"],"scale":{"paddingInner":0.3,"paddingOuter":0.15},"axis":{"title":null,"labelAngle":-45}},"y":{"field":"lo","type":"quantitative","scale":{"domain":[0,8]},"axis":{"title":"fold change","values":[0,2,4,6,8],"labelOverlap":false,"tickCount":20}},"y2":{"field":"hi"}}},
    {"transform":[{"filter":"datum.g==='iSOX9'"}],"mark":{"type":"bar","width":5,"xOffset":-3.5,"color":"#94c1f7","filled":false,"strokeWidth":1.3},"encoding":{"x":{"field":"c","type":"nominal","sort":["IL-6","TNF-α","IL-1β","TNF-α+IL-1 β"]},"y":{"field":"m","type":"quantitative"}}},
    {"transform":[{"filter":"datum.g==='iSOX9'"}],"mark":{"type":"rule","xOffset":-3.5,"color":"#94c1f7"},"encoding":{"x":{"field":"c","type":"nominal","sort":["IL-6","TNF-α","IL-1β","TNF-α+IL-1 β"]},"y":{"field":"lo","type":"quantitative"},"y2":{"field":"hi"}}},
    {"transform":[{"filter":"datum.g==='iSOX9'"},{"fold":["lo","hi"],"as":["k","val"]}],"mark":{"type":"tick","xOffset":-3.5,"color":"#94c1f7","size":4,"thickness":1},"encoding":{"x":{"field":"c","type":"nominal","sort":["IL-6","TNF-α","IL-1β","TNF-α+IL-1 β"]},"y":{"field":"val","type":"quantitative"}}},
    {"transform":[{"filter":"datum.g==='fHA'"}],"mark":{"type":"bar","width":5,"xOffset":3.5,"color":"#fdc07d","opacity":0.4},"encoding":{"x":{"field":"c","type":"nominal","sort":["IL-6","TNF-α","IL-1β","TNF-α+IL-1 β"]},"y":{"field":"lo","type":"quantitative"},"y2":{"field":"hi"}}},
    {"transform":[{"filter":"datum.g==='fHA'"}],"mark":{"type":"bar","width":5,"xOffset":3.5,"color":"#fdc07d","filled":false,"strokeWidth":1.3},"encoding":{"x":{"field":"c","type":"nominal","sort":["IL-6","TNF-α","IL-1β","TNF-α+IL-1 β"]},"y":{"field":"m","type":"quantitative"}}},
    {"transform":[{"filter":"datum.g==='fHA'"}],"mark":{"type":"rule","xOffset":3.5,"color":"#fdc07d"},"encoding":{"x":{"field":"c","type":"nominal","sort":["IL-6","TNF-α","IL-1β","TNF-α+IL-1 β"]},"y":{"field":"lo","type":"quantitative"},"y2":{"field":"hi"}}},
    {"transform":[{"filter":"datum.g==='fHA'"},{"fold":["lo","hi"],"as":["k","val"]}],"mark":{"type":"tick","xOffset":3.5,"color":"#fdc07d","size":4,"thickness":1},"encoding":{"x":{"field":"c","type":"nominal","sort":["IL-6","TNF-α","IL-1β","TNF-α+IL-1 β"]},"y":{"field":"val","type":"quantitative"}}},
    {"data":{"values":[{"p":"IL-10"}]},"mark":{"type":"rule","strokeDash":[2,2],"color":"#000"},"encoding":{"y":{"datum":1}}}
   ]},
   {"title":"PDGF-aa","width":71,"height":103,"data":{"name":"cyto"},"transform":[{"filter":"datum.p==='PDGF-aa'"}],"layer":[
    {"transform":[{"filter":"datum.g==='iSOX9'"}],"mark":{"type":"bar","width":5,"xOffset":-3.5,"color":"#94c1f7","opacity":0.4},"encoding":{"x":{"field":"c","type":"nominal","sort":["IL-6","TNF-α","IL-1β","TNF-α+IL-1 β"],"scale":{"paddingInner":0.3,"paddingOuter":0.15},"axis":{"title":null,"labelAngle":-45}},"y":{"field":"lo","type":"quantitative","scale":{"domain":[0,8]},"axis":{"title":"fold change","values":[0,2,4,6,8],"labelOverlap":false,"tickCount":20}},"y2":{"field":"hi"}}},
    {"transform":[{"filter":"datum.g==='iSOX9'"}],"mark":{"type":"bar","width":5,"xOffset":-3.5,"color":"#94c1f7","filled":false,"strokeWidth":1.3},"encoding":{"x":{"field":"c","type":"nominal","sort":["IL-6","TNF-α","IL-1β","TNF-α+IL-1 β"]},"y":{"field":"m","type":"quantitative"}}},
    {"transform":[{"filter":"datum.g==='iSOX9'"}],"mark":{"type":"rule","xOffset":-3.5,"color":"#94c1f7"},"encoding":{"x":{"field":"c","type":"nominal","sort":["IL-6","TNF-α","IL-1β","TNF-α+IL-1 β"]},"y":{"field":"lo","type":"quantitative"},"y2":{"field":"hi"}}},
    {"transform":[{"filter":"datum.g==='iSOX9'"},{"fold":["lo","hi"],"as":["k","val"]}],"mark":{"type":"tick","xOffset":-3.5,"color":"#94c1f7","size":4,"thickness":1},"encoding":{"x":{"field":"c","type":"nominal","sort":["IL-6","TNF-α","IL-1β","TNF-α+IL-1 β"]},"y":{"field":"val","type":"quantitative"}}},
    {"transform":[{"filter":"datum.g==='fHA'"}],"mark":{"type":"bar","width":5,"xOffset":3.5,"color":"#fdc07d","opacity":0.4},"encoding":{"x":{"field":"c","type":"nominal","sort":["IL-6","TNF-α","IL-1β","TNF-α+IL-1 β"]},"y":{"field":"lo","type":"quantitative"},"y2":{"field":"hi"}}},
    {"transform":[{"filter":"datum.g==='fHA'"}],"mark":{"type":"bar","width":5,"xOffset":3.5,"color":"#fdc07d","filled":false,"strokeWidth":1.3},"encoding":{"x":{"field":"c","type":"nominal","sort":["IL-6","TNF-α","IL-1β","TNF-α+IL-1 β"]},"y":{"field":"m","type":"quantitative"}}},
    {"transform":[{"filter":"datum.g==='fHA'"}],"mark":{"type":"rule","xOffset":3.5,"color":"#fdc07d"},"encoding":{"x":{"field":"c","type":"nominal","sort":["IL-6","TNF-α","IL-1β","TNF-α+IL-1 β"]},"y":{"field":"lo","type":"quantitative"},"y2":{"field":"hi"}}},
    {"transform":[{"filter":"datum.g==='fHA'"},{"fold":["lo","hi"],"as":["k","val"]}],"mark":{"type":"tick","xOffset":3.5,"color":"#fdc07d","size":4,"thickness":1},"encoding":{"x":{"field":"c","type":"nominal","sort":["IL-6","TNF-α","IL-1β","TNF-α+IL-1 β"]},"y":{"field":"val","type":"quantitative"}}},
    {"data":{"values":[{"p":"PDGF-aa"}]},"mark":{"type":"rule","strokeDash":[2,2],"color":"#000"},"encoding":{"y":{"datum":1}}},
    {"data":{"name":"stars"},"transform":[{"filter":"datum.p==='PDGF-aa'"}],"mark":{"type":"text","fontSize":7,"fontWeight":"bold","dx":-6},"encoding":{"x":{"field":"c","type":"nominal","sort":["IL-6","TNF-α","IL-1β","TNF-α+IL-1 β"]},"y":{"field":"y","type":"quantitative"},"text":{"field":"s"}}}
   ]}
  ],"resolve":{"scale":{"color":"independent"}}},
 {"bounds":"flush","spacing":31,
  "hconcat":[
   {"title":"LIF","width":67,"height":103,"data":{"name":"cyto"},"transform":[{"filter":"datum.p==='LIF'"}],"layer":[
    {"transform":[{"filter":"datum.g==='iSOX9'"}],"mark":{"type":"bar","width":5,"xOffset":-3.5,"color":"#94c1f7","opacity":0.4},"encoding":{"x":{"field":"c","type":"nominal","sort":["IL-6","TNF-α","IL-1β","TNF-α+IL-1 β"],"scale":{"paddingInner":0.3,"paddingOuter":0.15},"axis":{"title":null,"labelAngle":-45}},"y":{"field":"lo","type":"quantitative","scale":{"domain":[0,25]},"axis":{"title":"fold change","values":[0,5,10,15,20,25],"labelOverlap":false,"tickCount":20}},"y2":{"field":"hi"}}},
    {"transform":[{"filter":"datum.g==='iSOX9'"}],"mark":{"type":"bar","width":5,"xOffset":-3.5,"color":"#94c1f7","filled":false,"strokeWidth":1.3},"encoding":{"x":{"field":"c","type":"nominal","sort":["IL-6","TNF-α","IL-1β","TNF-α+IL-1 β"]},"y":{"field":"m","type":"quantitative"}}},
    {"transform":[{"filter":"datum.g==='iSOX9'"}],"mark":{"type":"rule","xOffset":-3.5,"color":"#94c1f7"},"encoding":{"x":{"field":"c","type":"nominal","sort":["IL-6","TNF-α","IL-1β","TNF-α+IL-1 β"]},"y":{"field":"lo","type":"quantitative"},"y2":{"field":"hi"}}},
    {"transform":[{"filter":"datum.g==='iSOX9'"},{"fold":["lo","hi"],"as":["k","val"]}],"mark":{"type":"tick","xOffset":-3.5,"color":"#94c1f7","size":4,"thickness":1},"encoding":{"x":{"field":"c","type":"nominal","sort":["IL-6","TNF-α","IL-1β","TNF-α+IL-1 β"]},"y":{"field":"val","type":"quantitative"}}},
    {"transform":[{"filter":"datum.g==='fHA'"}],"mark":{"type":"bar","width":5,"xOffset":3.5,"color":"#fdc07d","opacity":0.4},"encoding":{"x":{"field":"c","type":"nominal","sort":["IL-6","TNF-α","IL-1β","TNF-α+IL-1 β"]},"y":{"field":"lo","type":"quantitative"},"y2":{"field":"hi"}}},
    {"transform":[{"filter":"datum.g==='fHA'"}],"mark":{"type":"bar","width":5,"xOffset":3.5,"color":"#fdc07d","filled":false,"strokeWidth":1.3},"encoding":{"x":{"field":"c","type":"nominal","sort":["IL-6","TNF-α","IL-1β","TNF-α+IL-1 β"]},"y":{"field":"m","type":"quantitative"}}},
    {"transform":[{"filter":"datum.g==='fHA'"}],"mark":{"type":"rule","xOffset":3.5,"color":"#fdc07d"},"encoding":{"x":{"field":"c","type":"nominal","sort":["IL-6","TNF-α","IL-1β","TNF-α+IL-1 β"]},"y":{"field":"lo","type":"quantitative"},"y2":{"field":"hi"}}},
    {"transform":[{"filter":"datum.g==='fHA'"},{"fold":["lo","hi"],"as":["k","val"]}],"mark":{"type":"tick","xOffset":3.5,"color":"#fdc07d","size":4,"thickness":1},"encoding":{"x":{"field":"c","type":"nominal","sort":["IL-6","TNF-α","IL-1β","TNF-α+IL-1 β"]},"y":{"field":"val","type":"quantitative"}}},
    {"data":{"values":[{"p":"LIF"}]},"mark":{"type":"rule","strokeDash":[2,2],"color":"#000"},"encoding":{"y":{"datum":1}}},
    {"data":{"name":"stars"},"transform":[{"filter":"datum.p==='LIF'"}],"mark":{"type":"text","fontSize":6,"fontWeight":"bold"},"encoding":{"x":{"field":"c","type":"nominal","sort":["IL-6","TNF-α","IL-1β","TNF-α+IL-1 β"]},"y":{"field":"y","type":"quantitative"},"text":{"field":"s"}}}
   ]},
   {"title":"GM-CSF","width":66,"height":103,"resolve":{"scale":{"y":"independent"},"axis":{"y":"independent"}},"layer":[
    {"data":{"name":"cyto"},"transform":[{"filter":"datum.p==='GM-CSF'"}],"layer":[
     {"transform":[{"filter":"datum.g==='iSOX9' && datum.m>30"}],"mark":{"type":"bar","width":5,"xOffset":-3.5,"color":"#94c1f7","opacity":0.4},"encoding":{"x":{"field":"c","type":"nominal","sort":["IL-6","TNF-α","IL-1β","TNF-α+IL-1 β"],"scale":{"paddingInner":0.3,"paddingOuter":0.15},"axis":{"title":null,"labelAngle":-45}},"y":{"field":"lo","type":"quantitative","scale":{"domain":[30,500],"range":[28,0],"clamp":true},"axis":{"orient":"left","title":null,"values":[30,250,500],"labelOverlap":false,"tickCount":20}},"y2":{"field":"hi"}}},
     {"transform":[{"filter":"datum.g==='iSOX9' && datum.m>30"}],"mark":{"type":"bar","width":5,"xOffset":-3.5,"color":"#94c1f7","filled":false,"strokeWidth":1.3},"encoding":{"x":{"field":"c","type":"nominal","sort":["IL-6","TNF-α","IL-1β","TNF-α+IL-1 β"]},"y":{"field":"m","type":"quantitative"}}},
     {"transform":[{"filter":"datum.g==='iSOX9' && datum.m>30"}],"mark":{"type":"rule","xOffset":-3.5,"color":"#94c1f7"},"encoding":{"x":{"field":"c","type":"nominal","sort":["IL-6","TNF-α","IL-1β","TNF-α+IL-1 β"]},"y":{"field":"lo","type":"quantitative"},"y2":{"field":"hi"}}},
     {"transform":[{"filter":"datum.g==='iSOX9' && datum.m>30"},{"fold":["lo","hi"],"as":["k","val"]}],"mark":{"type":"tick","xOffset":-3.5,"color":"#94c1f7","size":4,"thickness":1},"encoding":{"x":{"field":"c","type":"nominal","sort":["IL-6","TNF-α","IL-1β","TNF-α+IL-1 β"]},"y":{"field":"val","type":"quantitative"}}},
     {"transform":[{"filter":"datum.g==='fHA' && datum.m>30"}],"mark":{"type":"bar","width":5,"xOffset":3.5,"color":"#fdc07d","opacity":0.4},"encoding":{"x":{"field":"c","type":"nominal","sort":["IL-6","TNF-α","IL-1β","TNF-α+IL-1 β"]},"y":{"field":"lo","type":"quantitative"},"y2":{"field":"hi"}}},
     {"transform":[{"filter":"datum.g==='fHA' && datum.m>30"}],"mark":{"type":"bar","width":5,"xOffset":3.5,"color":"#fdc07d","filled":false,"strokeWidth":1.3},"encoding":{"x":{"field":"c","type":"nominal","sort":["IL-6","TNF-α","IL-1β","TNF-α+IL-1 β"]},"y":{"field":"m","type":"quantitative"}}},
     {"transform":[{"filter":"datum.g==='fHA' && datum.m>30"}],"mark":{"type":"rule","xOffset":3.5,"color":"#fdc07d"},"encoding":{"x":{"field":"c","type":"nominal","sort":["IL-6","TNF-α","IL-1β","TNF-α+IL-1 β"]},"y":{"field":"lo","type":"quantitative"},"y2":{"field":"hi"}}},
     {"transform":[{"filter":"datum.g==='fHA' && datum.m>30"},{"fold":["lo","hi"],"as":["k","val"]}],"mark":{"type":"tick","xOffset":3.5,"color":"#fdc07d","size":4,"thickness":1},"encoding":{"x":{"field":"c","type":"nominal","sort":["IL-6","TNF-α","IL-1β","TNF-α+IL-1 β"]},"y":{"field":"val","type":"quantitative"}}},
     {"data":{"name":"stars"},"transform":[{"filter":"datum.p==='GM-CSF'"}],"mark":{"type":"text","fontSize":6,"fontWeight":"bold","dy":-5,"dx":3},"encoding":{"x":{"field":"c","type":"nominal","sort":["IL-6","TNF-α","IL-1β","TNF-α+IL-1 β"]},"y":{"field":"y","type":"quantitative"},"text":{"field":"s"}}}
    ]},
    {"data":{"name":"cyto"},"transform":[{"filter":"datum.p==='GM-CSF'"}],"layer":[
     {"transform":[{"filter":"datum.g==='iSOX9'"}],"mark":{"type":"bar","width":5,"xOffset":-3.5,"color":"#94c1f7","opacity":0.4},"encoding":{"x":{"field":"c","type":"nominal","sort":["IL-6","TNF-α","IL-1β","TNF-α+IL-1 β"],"scale":{"paddingInner":0.3,"paddingOuter":0.15},"axis":{"title":null,"labelAngle":-45}},"y":{"field":"lo","type":"quantitative","scale":{"domain":[0,15],"range":[103,36],"clamp":true},"axis":{"orient":"left","title":"fold change","values":[0,5,10,15],"labelOverlap":false,"tickCount":20}},"y2":{"field":"hi"}}},
     {"transform":[{"filter":"datum.g==='iSOX9'"}],"mark":{"type":"bar","width":5,"xOffset":-3.5,"color":"#94c1f7","filled":false,"strokeWidth":1.3},"encoding":{"x":{"field":"c","type":"nominal","sort":["IL-6","TNF-α","IL-1β","TNF-α+IL-1 β"]},"y":{"field":"m","type":"quantitative"}}},
     {"transform":[{"filter":"datum.g==='iSOX9'"}],"mark":{"type":"rule","xOffset":-3.5,"color":"#94c1f7"},"encoding":{"x":{"field":"c","type":"nominal","sort":["IL-6","TNF-α","IL-1β","TNF-α+IL-1 β"]},"y":{"field":"lo","type":"quantitative"},"y2":{"field":"hi"}}},
     {"transform":[{"filter":"datum.g==='iSOX9'"},{"fold":["lo","hi"],"as":["k","val"]},{"filter":"datum.val<=15"}],"mark":{"type":"tick","xOffset":-3.5,"color":"#94c1f7","size":4,"thickness":1},"encoding":{"x":{"field":"c","type":"nominal","sort":["IL-6","TNF-α","IL-1β","TNF-α+IL-1 β"]},"y":{"field":"val","type":"quantitative"}}},
     {"transform":[{"filter":"datum.g==='fHA'"}],"mark":{"type":"bar","width":5,"xOffset":3.5,"color":"#fdc07d","opacity":0.4},"encoding":{"x":{"field":"c","type":"nominal","sort":["IL-6","TNF-α","IL-1β","TNF-α+IL-1 β"]},"y":{"field":"lo","type":"quantitative"},"y2":{"field":"hi"}}},
     {"transform":[{"filter":"datum.g==='fHA'"}],"mark":{"type":"bar","width":5,"xOffset":3.5,"color":"#fdc07d","filled":false,"strokeWidth":1.3},"encoding":{"x":{"field":"c","type":"nominal","sort":["IL-6","TNF-α","IL-1β","TNF-α+IL-1 β"]},"y":{"field":"m","type":"quantitative"}}},
     {"transform":[{"filter":"datum.g==='fHA'"}],"mark":{"type":"rule","xOffset":3.5,"color":"#fdc07d"},"encoding":{"x":{"field":"c","type":"nominal","sort":["IL-6","TNF-α","IL-1β","TNF-α+IL-1 β"]},"y":{"field":"lo","type":"quantitative"},"y2":{"field":"hi"}}},
     {"transform":[{"filter":"datum.g==='fHA'"},{"fold":["lo","hi"],"as":["k","val"]},{"filter":"datum.val<=15"}],"mark":{"type":"tick","xOffset":3.5,"color":"#fdc07d","size":4,"thickness":1},"encoding":{"x":{"field":"c","type":"nominal","sort":["IL-6","TNF-α","IL-1β","TNF-α+IL-1 β"]},"y":{"field":"val","type":"quantitative"}}},
     {"data":{"values":[{"p":"GM-CSF"}]},"mark":{"type":"rule","strokeDash":[2,2],"color":"#000"},"encoding":{"y":{"datum":1}}}
    ]}
   ]},
   {"title":"IL-6","width":61,"height":103,"resolve":{"scale":{"y":"independent"},"axis":{"y":"independent"}},"layer":[
    {"data":{"name":"cyto"},"transform":[{"filter":"datum.p==='IL-6'"}],"layer":[
     {"transform":[{"filter":"datum.g==='iSOX9' && datum.m>500"}],"mark":{"type":"bar","width":5,"xOffset":-3.5,"color":"#94c1f7","opacity":0.4},"encoding":{"x":{"field":"c","type":"nominal","sort":["IL-6","TNF-α","IL-1β","TNF-α+IL-1 β"],"scale":{"paddingInner":0.3,"paddingOuter":0.15},"axis":{"title":null,"labelAngle":-45}},"y":{"field":"lo","type":"quantitative","scale":{"domain":[500,8000],"range":[28,0],"clamp":true},"axis":{"orient":"left","title":null,"values":[500,4000,8000],"format":"d","labelOverlap":false,"tickCount":20}},"y2":{"field":"hi"}}},
     {"transform":[{"filter":"datum.g==='iSOX9' && datum.m>500"}],"mark":{"type":"bar","width":5,"xOffset":-3.5,"color":"#94c1f7","filled":false,"strokeWidth":1.3},"encoding":{"x":{"field":"c","type":"nominal","sort":["IL-6","TNF-α","IL-1β","TNF-α+IL-1 β"]},"y":{"field":"m","type":"quantitative"}}},
     {"transform":[{"filter":"datum.g==='iSOX9' && datum.m>500"}],"mark":{"type":"rule","xOffset":-3.5,"color":"#94c1f7"},"encoding":{"x":{"field":"c","type":"nominal","sort":["IL-6","TNF-α","IL-1β","TNF-α+IL-1 β"]},"y":{"field":"lo","type":"quantitative"},"y2":{"field":"hi"}}},
     {"transform":[{"filter":"datum.g==='iSOX9' && datum.m>500"},{"fold":["lo","hi"],"as":["k","val"]}],"mark":{"type":"tick","xOffset":-3.5,"color":"#94c1f7","size":4,"thickness":1},"encoding":{"x":{"field":"c","type":"nominal","sort":["IL-6","TNF-α","IL-1β","TNF-α+IL-1 β"]},"y":{"field":"val","type":"quantitative"}}},
     {"transform":[{"filter":"datum.g==='fHA' && datum.m>500"}],"mark":{"type":"bar","width":5,"xOffset":3.5,"color":"#fdc07d","opacity":0.4},"encoding":{"x":{"field":"c","type":"nominal","sort":["IL-6","TNF-α","IL-1β","TNF-α+IL-1 β"]},"y":{"field":"lo","type":"quantitative"},"y2":{"field":"hi"}}},
     {"transform":[{"filter":"datum.g==='fHA' && datum.m>500"}],"mark":{"type":"bar","width":5,"xOffset":3.5,"color":"#fdc07d","filled":false,"strokeWidth":1.3},"encoding":{"x":{"field":"c","type":"nominal","sort":["IL-6","TNF-α","IL-1β","TNF-α+IL-1 β"]},"y":{"field":"m","type":"quantitative"}}},
     {"transform":[{"filter":"datum.g==='fHA' && datum.m>500"}],"mark":{"type":"rule","xOffset":3.5,"color":"#fdc07d"},"encoding":{"x":{"field":"c","type":"nominal","sort":["IL-6","TNF-α","IL-1β","TNF-α+IL-1 β"]},"y":{"field":"lo","type":"quantitative"},"y2":{"field":"hi"}}},
     {"transform":[{"filter":"datum.g==='fHA' && datum.m>500"},{"fold":["lo","hi"],"as":["k","val"]}],"mark":{"type":"tick","xOffset":3.5,"color":"#fdc07d","size":4,"thickness":1},"encoding":{"x":{"field":"c","type":"nominal","sort":["IL-6","TNF-α","IL-1β","TNF-α+IL-1 β"]},"y":{"field":"val","type":"quantitative"}}},
     {"data":{"name":"stars"},"transform":[{"filter":"datum.p==='IL-6'"}],"mark":{"type":"text","fontSize":6,"fontWeight":"bold","dy":-3},"encoding":{"x":{"field":"c","type":"nominal","sort":["IL-6","TNF-α","IL-1β","TNF-α+IL-1 β"]},"y":{"field":"y","type":"quantitative"},"text":{"field":"s"}}}
    ]},
    {"data":{"name":"cyto"},"transform":[{"filter":"datum.p==='IL-6'"}],"layer":[
     {"transform":[{"filter":"datum.g==='iSOX9'"}],"mark":{"type":"bar","width":5,"xOffset":-3.5,"color":"#94c1f7","opacity":0.4},"encoding":{"x":{"field":"c","type":"nominal","sort":["IL-6","TNF-α","IL-1β","TNF-α+IL-1 β"],"scale":{"paddingInner":0.3,"paddingOuter":0.15},"axis":{"title":null,"labelAngle":-45}},"y":{"field":"lo","type":"quantitative","scale":{"domain":[0,40],"range":[103,36],"clamp":true},"axis":{"orient":"left","title":"fold change","values":[0,20,40],"labelOverlap":false,"tickCount":20}},"y2":{"field":"hi"}}},
     {"transform":[{"filter":"datum.g==='iSOX9'"}],"mark":{"type":"bar","width":5,"xOffset":-3.5,"color":"#94c1f7","filled":false,"strokeWidth":1.3},"encoding":{"x":{"field":"c","type":"nominal","sort":["IL-6","TNF-α","IL-1β","TNF-α+IL-1 β"]},"y":{"field":"m","type":"quantitative"}}},
     {"transform":[{"filter":"datum.g==='iSOX9'"}],"mark":{"type":"rule","xOffset":-3.5,"color":"#94c1f7"},"encoding":{"x":{"field":"c","type":"nominal","sort":["IL-6","TNF-α","IL-1β","TNF-α+IL-1 β"]},"y":{"field":"lo","type":"quantitative"},"y2":{"field":"hi"}}},
     {"transform":[{"filter":"datum.g==='iSOX9'"},{"fold":["lo","hi"],"as":["k","val"]},{"filter":"datum.val<=40"}],"mark":{"type":"tick","xOffset":-3.5,"color":"#94c1f7","size":4,"thickness":1},"encoding":{"x":{"field":"c","type":"nominal","sort":["IL-6","TNF-α","IL-1β","TNF-α+IL-1 β"]},"y":{"field":"val","type":"quantitative"}}},
     {"transform":[{"filter":"datum.g==='fHA'"}],"mark":{"type":"bar","width":5,"xOffset":3.5,"color":"#fdc07d","opacity":0.4},"encoding":{"x":{"field":"c","type":"nominal","sort":["IL-6","TNF-α","IL-1β","TNF-α+IL-1 β"]},"y":{"field":"lo","type":"quantitative"},"y2":{"field":"hi"}}},
     {"transform":[{"filter":"datum.g==='fHA'"}],"mark":{"type":"bar","width":5,"xOffset":3.5,"color":"#fdc07d","filled":false,"strokeWidth":1.3},"encoding":{"x":{"field":"c","type":"nominal","sort":["IL-6","TNF-α","IL-1β","TNF-α+IL-1 β"]},"y":{"field":"m","type":"quantitative"}}},
     {"transform":[{"filter":"datum.g==='fHA'"}],"mark":{"type":"rule","xOffset":3.5,"color":"#fdc07d"},"encoding":{"x":{"field":"c","type":"nominal","sort":["IL-6","TNF-α","IL-1β","TNF-α+IL-1 β"]},"y":{"field":"lo","type":"quantitative"},"y2":{"field":"hi"}}},
     {"transform":[{"filter":"datum.g==='fHA'"},{"fold":["lo","hi"],"as":["k","val"]},{"filter":"datum.val<=40"}],"mark":{"type":"tick","xOffset":3.5,"color":"#fdc07d","size":4,"thickness":1},"encoding":{"x":{"field":"c","type":"nominal","sort":["IL-6","TNF-α","IL-1β","TNF-α+IL-1 β"]},"y":{"field":"val","type":"quantitative"}}},
     {"data":{"values":[{"p":"IL-6"}]},"mark":{"type":"rule","strokeDash":[2,2],"color":"#000"},"encoding":{"y":{"datum":1}}}
    ]}
   ]},
   {"title":"TNF-α","width":64,"height":103,"resolve":{"scale":{"y":"independent"},"axis":{"y":"independent"}},"layer":[
    {"data":{"name":"cyto"},"transform":[{"filter":"datum.p==='TNF-α'"}],"layer":[
     {"transform":[{"filter":"datum.g==='iSOX9' && datum.m>70"}],"mark":{"type":"bar","width":5,"xOffset":-3.5,"color":"#94c1f7","opacity":0.4},"encoding":{"x":{"field":"c","type":"nominal","sort":["IL-6","TNF-α","IL-1β","TNF-α+IL-1 β"],"scale":{"paddingInner":0.3,"paddingOuter":0.15},"axis":{"title":null,"labelAngle":-45}},"y":{"field":"lo","type":"quantitative","scale":{"domain":[70,400],"range":[28,0],"clamp":true},"axis":{"orient":"left","title":null,"values":[200,400],"labelOverlap":false,"tickCount":20}},"y2":{"field":"hi"}}},
     {"transform":[{"filter":"datum.g==='iSOX9' && datum.m>70"}],"mark":{"type":"bar","width":5,"xOffset":-3.5,"color":"#94c1f7","filled":false,"strokeWidth":1.3},"encoding":{"x":{"field":"c","type":"nominal","sort":["IL-6","TNF-α","IL-1β","TNF-α+IL-1 β"]},"y":{"field":"m","type":"quantitative"}}},
     {"transform":[{"filter":"datum.g==='iSOX9' && datum.m>70"}],"mark":{"type":"rule","xOffset":-3.5,"color":"#94c1f7"},"encoding":{"x":{"field":"c","type":"nominal","sort":["IL-6","TNF-α","IL-1β","TNF-α+IL-1 β"]},"y":{"field":"lo","type":"quantitative"},"y2":{"field":"hi"}}},
     {"transform":[{"filter":"datum.g==='iSOX9' && datum.m>70"},{"fold":["lo","hi"],"as":["k","val"]}],"mark":{"type":"tick","xOffset":-3.5,"color":"#94c1f7","size":4,"thickness":1},"encoding":{"x":{"field":"c","type":"nominal","sort":["IL-6","TNF-α","IL-1β","TNF-α+IL-1 β"]},"y":{"field":"val","type":"quantitative"}}},
     {"transform":[{"filter":"datum.g==='fHA' && datum.m>70"}],"mark":{"type":"bar","width":5,"xOffset":3.5,"color":"#fdc07d","opacity":0.4},"encoding":{"x":{"field":"c","type":"nominal","sort":["IL-6","TNF-α","IL-1β","TNF-α+IL-1 β"]},"y":{"field":"lo","type":"quantitative"},"y2":{"field":"hi"}}},
     {"transform":[{"filter":"datum.g==='fHA' && datum.m>70"}],"mark":{"type":"bar","width":5,"xOffset":3.5,"color":"#fdc07d","filled":false,"strokeWidth":1.3},"encoding":{"x":{"field":"c","type":"nominal","sort":["IL-6","TNF-α","IL-1β","TNF-α+IL-1 β"]},"y":{"field":"m","type":"quantitative"}}},
     {"transform":[{"filter":"datum.g==='fHA' && datum.m>70"}],"mark":{"type":"rule","xOffset":3.5,"color":"#fdc07d"},"encoding":{"x":{"field":"c","type":"nominal","sort":["IL-6","TNF-α","IL-1β","TNF-α+IL-1 β"]},"y":{"field":"lo","type":"quantitative"},"y2":{"field":"hi"}}},
     {"transform":[{"filter":"datum.g==='fHA' && datum.m>70"},{"fold":["lo","hi"],"as":["k","val"]}],"mark":{"type":"tick","xOffset":3.5,"color":"#fdc07d","size":4,"thickness":1},"encoding":{"x":{"field":"c","type":"nominal","sort":["IL-6","TNF-α","IL-1β","TNF-α+IL-1 β"]},"y":{"field":"val","type":"quantitative"}}},
     {"data":{"name":"stars"},"transform":[{"filter":"datum.p==='TNF-α'"}],"mark":{"type":"text","fontSize":6,"fontWeight":"bold","dx":3,"dy":-2},"encoding":{"x":{"field":"c","type":"nominal","sort":["IL-6","TNF-α","IL-1β","TNF-α+IL-1 β"]},"y":{"field":"y","type":"quantitative"},"text":{"field":"s"}}}
    ]},
    {"data":{"name":"cyto"},"transform":[{"filter":"datum.p==='TNF-α'"}],"layer":[
     {"transform":[{"filter":"datum.g==='iSOX9'"}],"mark":{"type":"bar","width":5,"xOffset":-3.5,"color":"#94c1f7","opacity":0.4},"encoding":{"x":{"field":"c","type":"nominal","sort":["IL-6","TNF-α","IL-1β","TNF-α+IL-1 β"],"scale":{"paddingInner":0.3,"paddingOuter":0.15},"axis":{"title":null,"labelAngle":-45}},"y":{"field":"lo","type":"quantitative","scale":{"domain":[0,2],"range":[103,36],"clamp":true},"axis":{"orient":"left","title":"fold change","values":[0,0.5,1,1.5,2],"format":".1f","labelOverlap":false,"tickCount":20}},"y2":{"field":"hi"}}},
     {"transform":[{"filter":"datum.g==='iSOX9'"}],"mark":{"type":"bar","width":5,"xOffset":-3.5,"color":"#94c1f7","filled":false,"strokeWidth":1.3},"encoding":{"x":{"field":"c","type":"nominal","sort":["IL-6","TNF-α","IL-1β","TNF-α+IL-1 β"]},"y":{"field":"m","type":"quantitative"}}},
     {"transform":[{"filter":"datum.g==='iSOX9'"}],"mark":{"type":"rule","xOffset":-3.5,"color":"#94c1f7"},"encoding":{"x":{"field":"c","type":"nominal","sort":["IL-6","TNF-α","IL-1β","TNF-α+IL-1 β"]},"y":{"field":"lo","type":"quantitative"},"y2":{"field":"hi"}}},
     {"transform":[{"filter":"datum.g==='iSOX9'"},{"fold":["lo","hi"],"as":["k","val"]},{"filter":"datum.val<=2"}],"mark":{"type":"tick","xOffset":-3.5,"color":"#94c1f7","size":4,"thickness":1},"encoding":{"x":{"field":"c","type":"nominal","sort":["IL-6","TNF-α","IL-1β","TNF-α+IL-1 β"]},"y":{"field":"val","type":"quantitative"}}},
     {"transform":[{"filter":"datum.g==='fHA'"}],"mark":{"type":"bar","width":5,"xOffset":3.5,"color":"#fdc07d","opacity":0.4},"encoding":{"x":{"field":"c","type":"nominal","sort":["IL-6","TNF-α","IL-1β","TNF-α+IL-1 β"]},"y":{"field":"lo","type":"quantitative"},"y2":{"field":"hi"}}},
     {"transform":[{"filter":"datum.g==='fHA'"}],"mark":{"type":"bar","width":5,"xOffset":3.5,"color":"#fdc07d","filled":false,"strokeWidth":1.3},"encoding":{"x":{"field":"c","type":"nominal","sort":["IL-6","TNF-α","IL-1β","TNF-α+IL-1 β"]},"y":{"field":"m","type":"quantitative"}}},
     {"transform":[{"filter":"datum.g==='fHA'"}],"mark":{"type":"rule","xOffset":3.5,"color":"#fdc07d"},"encoding":{"x":{"field":"c","type":"nominal","sort":["IL-6","TNF-α","IL-1β","TNF-α+IL-1 β"]},"y":{"field":"lo","type":"quantitative"},"y2":{"field":"hi"}}},
     {"transform":[{"filter":"datum.g==='fHA'"},{"fold":["lo","hi"],"as":["k","val"]},{"filter":"datum.val<=2"}],"mark":{"type":"tick","xOffset":3.5,"color":"#fdc07d","size":4,"thickness":1},"encoding":{"x":{"field":"c","type":"nominal","sort":["IL-6","TNF-α","IL-1β","TNF-α+IL-1 β"]},"y":{"field":"val","type":"quantitative"}}},
     {"data":{"values":[{"p":"TNF-α"}]},"mark":{"type":"rule","strokeDash":[2,2],"color":"#000"},"encoding":{"y":{"datum":1}}}
    ]}
   ]},
   {"title":"IL-1β","width":56,"height":103,"resolve":{"scale":{"y":"independent"},"axis":{"y":"independent"}},"layer":[
    {"data":{"name":"cyto"},"transform":[{"filter":"datum.p==='IL-1β'"}],"layer":[
     {"transform":[{"filter":"datum.g==='iSOX9' && datum.m>5000"}],"mark":{"type":"bar","width":5,"xOffset":-3.5,"color":"#94c1f7","opacity":0.4},"encoding":{"x":{"field":"c","type":"nominal","sort":["IL-6","TNF-α","IL-1β","TNF-α+IL-1 β"],"scale":{"paddingInner":0.3,"paddingOuter":0.15},"axis":{"title":null,"labelAngle":-45}},"y":{"field":"lo","type":"quantitative","scale":{"domain":[5000,10000],"range":[28,0],"clamp":true},"axis":{"orient":"left","title":null,"values":[5000,10000],"format":"d","labelOverlap":false,"tickCount":20}},"y2":{"field":"hi"}}},
     {"transform":[{"filter":"datum.g==='iSOX9' && datum.m>5000"}],"mark":{"type":"bar","width":5,"xOffset":-3.5,"color":"#94c1f7","filled":false,"strokeWidth":1.3},"encoding":{"x":{"field":"c","type":"nominal","sort":["IL-6","TNF-α","IL-1β","TNF-α+IL-1 β"]},"y":{"field":"m","type":"quantitative"}}},
     {"transform":[{"filter":"datum.g==='iSOX9' && datum.m>5000"}],"mark":{"type":"rule","xOffset":-3.5,"color":"#94c1f7"},"encoding":{"x":{"field":"c","type":"nominal","sort":["IL-6","TNF-α","IL-1β","TNF-α+IL-1 β"]},"y":{"field":"lo","type":"quantitative"},"y2":{"field":"hi"}}},
     {"transform":[{"filter":"datum.g==='iSOX9' && datum.m>5000"},{"fold":["lo","hi"],"as":["k","val"]}],"mark":{"type":"tick","xOffset":-3.5,"color":"#94c1f7","size":4,"thickness":1},"encoding":{"x":{"field":"c","type":"nominal","sort":["IL-6","TNF-α","IL-1β","TNF-α+IL-1 β"]},"y":{"field":"val","type":"quantitative"}}},
     {"transform":[{"filter":"datum.g==='fHA' && datum.m>5000"}],"mark":{"type":"bar","width":5,"xOffset":3.5,"color":"#fdc07d","opacity":0.4},"encoding":{"x":{"field":"c","type":"nominal","sort":["IL-6","TNF-α","IL-1β","TNF-α+IL-1 β"]},"y":{"field":"lo","type":"quantitative"},"y2":{"field":"hi"}}},
     {"transform":[{"filter":"datum.g==='fHA' && datum.m>5000"}],"mark":{"type":"bar","width":5,"xOffset":3.5,"color":"#fdc07d","filled":false,"strokeWidth":1.3},"encoding":{"x":{"field":"c","type":"nominal","sort":["IL-6","TNF-α","IL-1β","TNF-α+IL-1 β"]},"y":{"field":"m","type":"quantitative"}}},
     {"transform":[{"filter":"datum.g==='fHA' && datum.m>5000"}],"mark":{"type":"rule","xOffset":3.5,"color":"#fdc07d"},"encoding":{"x":{"field":"c","type":"nominal","sort":["IL-6","TNF-α","IL-1β","TNF-α+IL-1 β"]},"y":{"field":"lo","type":"quantitative"},"y2":{"field":"hi"}}},
     {"transform":[{"filter":"datum.g==='fHA' && datum.m>5000"},{"fold":["lo","hi"],"as":["k","val"]}],"mark":{"type":"tick","xOffset":3.5,"color":"#fdc07d","size":4,"thickness":1},"encoding":{"x":{"field":"c","type":"nominal","sort":["IL-6","TNF-α","IL-1β","TNF-α+IL-1 β"]},"y":{"field":"val","type":"quantitative"}}}
    ]},
    {"data":{"name":"cyto"},"transform":[{"filter":"datum.p==='IL-1β'"}],"layer":[
     {"transform":[{"filter":"datum.g==='iSOX9'"}],"mark":{"type":"bar","width":5,"xOffset":-3.5,"color":"#94c1f7","opacity":0.4},"encoding":{"x":{"field":"c","type":"nominal","sort":["IL-6","TNF-α","IL-1β","TNF-α+IL-1 β"],"scale":{"paddingInner":0.3,"paddingOuter":0.15},"axis":{"title":null,"labelAngle":-45}},"y":{"field":"lo","type":"quantitative","scale":{"domain":[0,5],"range":[103,36],"clamp":true},"axis":{"orient":"left","title":"fold change","values":[0,1,2,3,4,5],"labelOverlap":false,"tickCount":20}},"y2":{"field":"hi"}}},
     {"transform":[{"filter":"datum.g==='iSOX9'"}],"mark":{"type":"bar","width":5,"xOffset":-3.5,"color":"#94c1f7","filled":false,"strokeWidth":1.3},"encoding":{"x":{"field":"c","type":"nominal","sort":["IL-6","TNF-α","IL-1β","TNF-α+IL-1 β"]},"y":{"field":"m","type":"quantitative"}}},
     {"transform":[{"filter":"datum.g==='iSOX9'"}],"mark":{"type":"rule","xOffset":-3.5,"color":"#94c1f7"},"encoding":{"x":{"field":"c","type":"nominal","sort":["IL-6","TNF-α","IL-1β","TNF-α+IL-1 β"]},"y":{"field":"lo","type":"quantitative"},"y2":{"field":"hi"}}},
     {"transform":[{"filter":"datum.g==='iSOX9'"},{"fold":["lo","hi"],"as":["k","val"]},{"filter":"datum.val<=5"}],"mark":{"type":"tick","xOffset":-3.5,"color":"#94c1f7","size":4,"thickness":1},"encoding":{"x":{"field":"c","type":"nominal","sort":["IL-6","TNF-α","IL-1β","TNF-α+IL-1 β"]},"y":{"field":"val","type":"quantitative"}}},
     {"transform":[{"filter":"datum.g==='fHA'"}],"mark":{"type":"bar","width":5,"xOffset":3.5,"color":"#fdc07d","opacity":0.4},"encoding":{"x":{"field":"c","type":"nominal","sort":["IL-6","TNF-α","IL-1β","TNF-α+IL-1 β"]},"y":{"field":"lo","type":"quantitative"},"y2":{"field":"hi"}}},
     {"transform":[{"filter":"datum.g==='fHA'"}],"mark":{"type":"bar","width":5,"xOffset":3.5,"color":"#fdc07d","filled":false,"strokeWidth":1.3},"encoding":{"x":{"field":"c","type":"nominal","sort":["IL-6","TNF-α","IL-1β","TNF-α+IL-1 β"]},"y":{"field":"m","type":"quantitative"}}},
     {"transform":[{"filter":"datum.g==='fHA'"}],"mark":{"type":"rule","xOffset":3.5,"color":"#fdc07d"},"encoding":{"x":{"field":"c","type":"nominal","sort":["IL-6","TNF-α","IL-1β","TNF-α+IL-1 β"]},"y":{"field":"lo","type":"quantitative"},"y2":{"field":"hi"}}},
     {"transform":[{"filter":"datum.g==='fHA'"},{"fold":["lo","hi"],"as":["k","val"]},{"filter":"datum.val<=5"}],"mark":{"type":"tick","xOffset":3.5,"color":"#fdc07d","size":4,"thickness":1},"encoding":{"x":{"field":"c","type":"nominal","sort":["IL-6","TNF-α","IL-1β","TNF-α+IL-1 β"]},"y":{"field":"val","type":"quantitative"}}},
     {"data":{"values":[{"p":"IL-1β"}]},"mark":{"type":"rule","strokeDash":[2,2],"color":"#000"},"encoding":{"y":{"datum":1}}}
    ]}
   ]},
   {"title":"IL-23","width":68,"height":103,"data":{"name":"cyto"},"transform":[{"filter":"datum.p==='IL-23'"}],"layer":[
    {"transform":[{"filter":"datum.g==='iSOX9'"}],"mark":{"type":"bar","width":5,"xOffset":-3.5,"color":"#94c1f7","opacity":0.4},"encoding":{"x":{"field":"c","type":"nominal","sort":["IL-6","TNF-α","IL-1β","TNF-α+IL-1 β"],"scale":{"paddingInner":0.3,"paddingOuter":0.15},"axis":{"title":null,"labelAngle":-45}},"y":{"field":"lo","type":"quantitative","scale":{"domain":[0,4]},"axis":{"title":"fold change","values":[0,1,2,3,4],"labelOverlap":false,"tickCount":20}},"y2":{"field":"hi"}}},
    {"transform":[{"filter":"datum.g==='iSOX9'"}],"mark":{"type":"bar","width":5,"xOffset":-3.5,"color":"#94c1f7","filled":false,"strokeWidth":1.3},"encoding":{"x":{"field":"c","type":"nominal","sort":["IL-6","TNF-α","IL-1β","TNF-α+IL-1 β"]},"y":{"field":"m","type":"quantitative"}}},
    {"transform":[{"filter":"datum.g==='iSOX9'"}],"mark":{"type":"rule","xOffset":-3.5,"color":"#94c1f7"},"encoding":{"x":{"field":"c","type":"nominal","sort":["IL-6","TNF-α","IL-1β","TNF-α+IL-1 β"]},"y":{"field":"lo","type":"quantitative"},"y2":{"field":"hi"}}},
    {"transform":[{"filter":"datum.g==='iSOX9'"},{"fold":["lo","hi"],"as":["k","val"]}],"mark":{"type":"tick","xOffset":-3.5,"color":"#94c1f7","size":4,"thickness":1},"encoding":{"x":{"field":"c","type":"nominal","sort":["IL-6","TNF-α","IL-1β","TNF-α+IL-1 β"]},"y":{"field":"val","type":"quantitative"}}},
    {"transform":[{"filter":"datum.g==='fHA'"}],"mark":{"type":"bar","width":5,"xOffset":3.5,"color":"#fdc07d","opacity":0.4},"encoding":{"x":{"field":"c","type":"nominal","sort":["IL-6","TNF-α","IL-1β","TNF-α+IL-1 β"]},"y":{"field":"lo","type":"quantitative"},"y2":{"field":"hi"}}},
    {"transform":[{"filter":"datum.g==='fHA'"}],"mark":{"type":"bar","width":5,"xOffset":3.5,"color":"#fdc07d","filled":false,"strokeWidth":1.3},"encoding":{"x":{"field":"c","type":"nominal","sort":["IL-6","TNF-α","IL-1β","TNF-α+IL-1 β"]},"y":{"field":"m","type":"quantitative"}}},
    {"transform":[{"filter":"datum.g==='fHA'"}],"mark":{"type":"rule","xOffset":3.5,"color":"#fdc07d"},"encoding":{"x":{"field":"c","type":"nominal","sort":["IL-6","TNF-α","IL-1β","TNF-α+IL-1 β"]},"y":{"field":"lo","type":"quantitative"},"y2":{"field":"hi"}}},
    {"transform":[{"filter":"datum.g==='fHA'"},{"fold":["lo","hi"],"as":["k","val"]}],"mark":{"type":"tick","xOffset":3.5,"color":"#fdc07d","size":4,"thickness":1},"encoding":{"x":{"field":"c","type":"nominal","sort":["IL-6","TNF-α","IL-1β","TNF-α+IL-1 β"]},"y":{"field":"val","type":"quantitative"}}},
    {"mark":{"type":"point","filled":true,"size":0},"encoding":{"x":{"field":"c","type":"nominal","sort":["IL-6","TNF-α","IL-1β","TNF-α+IL-1 β"]},"y":{"field":"m","type":"quantitative"},"color":{"field":"g","type":"nominal","scale":{"domain":["iSOX9","fHA"],"range":["#94c1f7","#fdc07d"]},"legend":{"title":null,"orient":"right","offset":22,"symbolType":"circle","symbolSize":25,"symbolOpacity":1,"labelFontSize":8.5,"labelFontWeight":"normal","rowPadding":8}}}},
    {"data":{"values":[{"p":"IL-23"}]},"mark":{"type":"rule","strokeDash":[2,2],"color":"#000"},"encoding":{"y":{"datum":1}}},
    {"data":{"name":"stars"},"transform":[{"filter":"datum.p==='IL-23'"}],"mark":{"type":"text","fontSize":6,"fontWeight":"bold"},"encoding":{"x":{"field":"c","type":"nominal","sort":["IL-6","TNF-α","IL-1β","TNF-α+IL-1 β"]},"y":{"field":"y","type":"quantitative"},"text":{"field":"s"}}}
   ]}
  ],"resolve":{"scale":{"color":"independent"}}}
]
}
